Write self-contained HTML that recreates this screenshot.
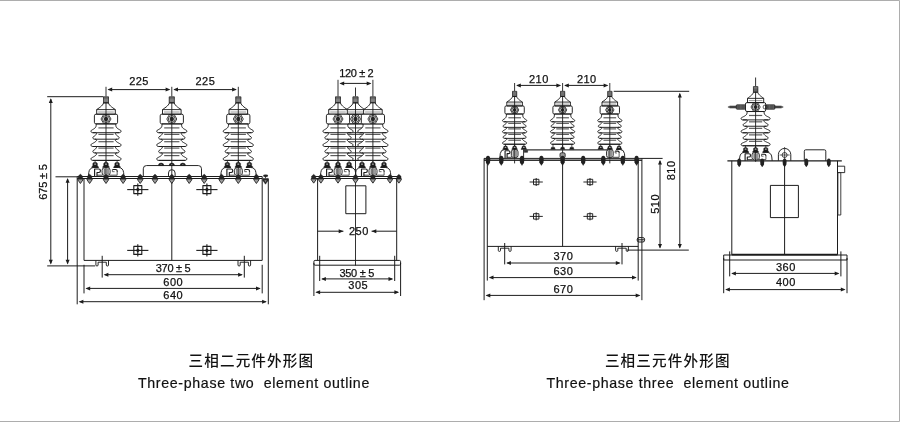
<!DOCTYPE html>
<html lang="zh">
<head>
<meta charset="utf-8">
<title>三相二元件外形图 / 三相三元件外形图</title>
<style>
html,body{margin:0;padding:0;background:#fff;}
body{width:900px;height:422px;overflow:hidden;}
svg{display:block;will-change:transform;}
.t{font-family:"Liberation Sans",sans-serif;fill:#111;stroke:#111;stroke-width:0.25px;}
.e{font-family:"Liberation Sans",sans-serif;fill:#111;stroke:#111;stroke-width:0.2px;}
.c{font-family:"Liberation Sans","Noto Sans CJK SC",sans-serif;fill:#111;font-weight:500;}
</style>
</head>
<body>
<svg width="900" height="422" viewBox="0 0 900 422" stroke-linecap="butt" stroke-linejoin="round">
<rect x="0" y="0" width="900" height="422" fill="#ffffff"/>
<path d="M0 0.5 H899.5 V421.5 H0" fill="none" stroke="#adadad" stroke-width="1"/>
<line x1="106" y1="86.8" x2="106" y2="96.7" stroke="#1c1c1c" stroke-width="0.9"/>
<line x1="171.8" y1="86.8" x2="171.8" y2="96.7" stroke="#1c1c1c" stroke-width="0.9"/>
<line x1="238.3" y1="86.8" x2="238.3" y2="96.7" stroke="#1c1c1c" stroke-width="0.9"/>
<line x1="108.5" y1="89.6" x2="169.3" y2="89.6" stroke="#1c1c1c" stroke-width="1"/>
<polygon points="107.5,89.6 112.2,87.6 112.2,91.6" fill="#1c1c1c"/>
<polygon points="170.3,89.6 165.6,87.6 165.6,91.6" fill="#1c1c1c"/>
<line x1="174.3" y1="89.6" x2="235.8" y2="89.6" stroke="#1c1c1c" stroke-width="1"/>
<polygon points="173.3,89.6 178,87.6 178,91.6" fill="#1c1c1c"/>
<polygon points="236.8,89.6 232.1,87.6 232.1,91.6" fill="#1c1c1c"/>
<text class="t" x="139.1" y="85" font-size="11" text-anchor="middle" letter-spacing="0.45">225</text>
<text class="t" x="205.4" y="85" font-size="11" text-anchor="middle" letter-spacing="0.45">225</text>
<rect x="103.5" y="96.7" width="5" height="6.2" rx="0" stroke="#333" stroke-width="0.7" fill="#d8d8d8"/>
<line x1="103" y1="97.4" x2="109" y2="97.4" stroke="#222" stroke-width="0.7"/>
<line x1="103" y1="98.65" x2="109" y2="98.65" stroke="#222" stroke-width="0.7"/>
<line x1="103" y1="99.9" x2="109" y2="99.9" stroke="#222" stroke-width="0.7"/>
<line x1="103" y1="101.15" x2="109" y2="101.15" stroke="#222" stroke-width="0.7"/>
<line x1="103" y1="102.4" x2="109" y2="102.4" stroke="#222" stroke-width="0.7"/>
<polygon points="108.4,102.9 108.89,104.02 109.63,105.07 110.57,106.06 111.66,107 112.85,107.88 114.08,108.71 115.3,109.5 115.3,114.2 96.7,114.2 96.7,109.5 97.92,108.71 99.15,107.88 100.34,107 101.43,106.06 102.37,105.07 103.11,104.02 103.6,102.9" fill="none" stroke="#1c1c1c" stroke-width="0.95"/>
<line x1="96.7" y1="109.6" x2="115.3" y2="109.6" stroke="#1c1c1c" stroke-width="0.9"/>
<line x1="98.2" y1="112" x2="113.8" y2="112" stroke="#8c8c8c" stroke-width="0.9"/>
<polygon points="115.8,123.9 115.8,125.3 115.97,126.35 116.36,127.23 116.94,127.96 117.69,128.59 118.57,129.17 119.55,129.72 120.6,130.3 120.98,130.82 121.04,131.45 120.77,132.06 120.16,132.52 119.2,132.7 116.1,132.7 115.3,133.3 115.55,133.8 115.8,134.27 116.1,134.74 116.5,135.21 117.04,135.7 117.76,136.23 118.7,136.8 119.08,137.32 119.14,137.95 118.87,138.56 118.26,139.02 117.3,139.2 116.1,139.2 115.3,140.1 115.65,140.78 116.18,141.39 116.85,141.95 117.65,142.47 118.56,142.99 119.55,143.53 120.6,144.1 120.98,144.62 121.04,145.25 120.77,145.86 120.16,146.32 119.2,146.5 116.1,146.5 115.3,147 115.55,147.5 115.8,147.97 116.1,148.44 116.5,148.91 117.04,149.4 117.76,149.93 118.7,150.5 119.08,151.02 119.14,151.65 118.87,152.26 118.26,152.72 117.3,152.9 116.1,152.9 115.3,153.8 115.65,154.56 116.18,155.22 116.85,155.81 117.65,156.36 118.56,156.89 119.55,157.43 120.6,158 120.98,158.52 121.04,159.15 120.77,159.76 120.16,160.22 119.2,160.4 116.1,160.4 95.9,160.4 92.8,160.4 91.84,160.22 91.23,159.76 90.96,159.15 91.02,158.52 91.4,158 92.45,157.43 93.44,156.89 94.35,156.36 95.15,155.81 95.82,155.22 96.35,154.56 96.7,153.8 95.9,152.9 94.7,152.9 93.74,152.72 93.13,152.26 92.86,151.65 92.92,151.02 93.3,150.5 94.24,149.93 94.96,149.4 95.5,148.91 95.9,148.44 96.2,147.97 96.45,147.5 96.7,147 95.9,146.5 92.8,146.5 91.84,146.32 91.23,145.86 90.96,145.25 91.02,144.62 91.4,144.1 92.45,143.53 93.44,142.99 94.35,142.47 95.15,141.95 95.82,141.39 96.35,140.78 96.7,140.1 95.9,139.2 94.7,139.2 93.74,139.02 93.13,138.56 92.86,137.95 92.92,137.32 93.3,136.8 94.24,136.23 94.96,135.7 95.5,135.21 95.9,134.74 96.2,134.27 96.45,133.8 96.7,133.3 95.9,132.7 92.8,132.7 91.84,132.52 91.23,132.06 90.96,131.45 91.02,130.82 91.4,130.3 92.45,129.72 93.43,129.17 94.31,128.59 95.06,127.96 95.64,127.23 96.03,126.35 96.2,125.3 96.2,123.9" fill="none" stroke="#1c1c1c" stroke-width="0.95"/>
<line x1="92.8" y1="132.7" x2="119.2" y2="132.7" stroke="#1c1c1c" stroke-width="0.95"/>
<line x1="98.4" y1="127.9" x2="113.6" y2="127.9" stroke="#5c5c5c" stroke-width="1.2"/>
<line x1="94.7" y1="139.2" x2="117.3" y2="139.2" stroke="#1c1c1c" stroke-width="0.95"/>
<line x1="98.4" y1="134.4" x2="113.6" y2="134.4" stroke="#5c5c5c" stroke-width="1.2"/>
<line x1="92.8" y1="146.5" x2="119.2" y2="146.5" stroke="#1c1c1c" stroke-width="0.95"/>
<line x1="98.4" y1="141.7" x2="113.6" y2="141.7" stroke="#5c5c5c" stroke-width="1.2"/>
<line x1="94.7" y1="152.9" x2="117.3" y2="152.9" stroke="#1c1c1c" stroke-width="0.95"/>
<line x1="98.4" y1="148.1" x2="113.6" y2="148.1" stroke="#5c5c5c" stroke-width="1.2"/>
<line x1="92.8" y1="160.4" x2="119.2" y2="160.4" stroke="#1c1c1c" stroke-width="0.95"/>
<line x1="98.4" y1="155.6" x2="113.6" y2="155.6" stroke="#5c5c5c" stroke-width="1.2"/>
<rect x="94.4" y="114.2" width="23.2" height="9.7" rx="1.6" stroke="#1c1c1c" stroke-width="0.95" fill="none"/>
<polygon points="101,119 103.5,114.7 108.5,114.7 111,119 108.5,123.3 103.5,123.3" fill="none" stroke="#1c1c1c" stroke-width="0.85"/>
<circle cx="106" cy="119" r="3.4" stroke="#1c1c1c" stroke-width="0.85" fill="none"/>
<circle cx="106" cy="119" r="2.2" stroke="#1c1c1c" stroke-width="0" fill="#2a2a2a"/>
<line x1="106" y1="102.5" x2="106" y2="182.5" stroke="#1c1c1c" stroke-width="0.9"/>
<line x1="95.1" y1="160.4" x2="95.1" y2="163.49" stroke="#1c1c1c" stroke-width="0.8"/>
<polygon points="91.8,167.48 91.8,166.68 92.8,165.78 92.8,163.49 93.6,162.49 96.6,162.49 97.4,163.49 97.4,165.78 98.4,166.68 98.4,167.48" fill="#1c1c1c" stroke="#1c1c1c" stroke-width="0.4"/>
<rect x="94.1" y="163.39" width="2" height="1.3" rx="0.5" stroke="#1c1c1c" stroke-width="0" fill="#a8a8a8"/>
<line x1="106" y1="160.4" x2="106" y2="163.49" stroke="#1c1c1c" stroke-width="0.8"/>
<polygon points="102.7,167.48 102.7,166.68 103.7,165.78 103.7,163.49 104.5,162.49 107.5,162.49 108.3,163.49 108.3,165.78 109.3,166.68 109.3,167.48" fill="#1c1c1c" stroke="#1c1c1c" stroke-width="0.4"/>
<rect x="105" y="163.39" width="2" height="1.3" rx="0.5" stroke="#1c1c1c" stroke-width="0" fill="#a8a8a8"/>
<line x1="117.1" y1="160.4" x2="117.1" y2="163.49" stroke="#1c1c1c" stroke-width="0.8"/>
<polygon points="113.8,167.48 113.8,166.68 114.8,165.78 114.8,163.49 115.6,162.49 118.6,162.49 119.4,163.49 119.4,165.78 120.4,166.68 120.4,167.48" fill="#1c1c1c" stroke="#1c1c1c" stroke-width="0.4"/>
<rect x="116.1" y="163.39" width="2" height="1.3" rx="0.5" stroke="#1c1c1c" stroke-width="0" fill="#a8a8a8"/>
<path d="M88.4 176.5 L88.8 172.48 Q89.4 167.68 94 167.48 L98.6 167.48" stroke="#1c1c1c" stroke-width="0.95" fill="none"/>
<path d="M94.6 176.5 L94.6 168.98 L98.8 168.98 Q100.4 168.98 100.4 170.38 L100.4 171.08 Q100.4 172.48 99 172.48 L97 172.48 L97 176" stroke="#1c1c1c" stroke-width="1.15" fill="none"/>
<line x1="97" y1="175.2" x2="102.6" y2="175.2" stroke="#333" stroke-width="0.9"/>
<path d="M124 176.5 L123.6 172.48 Q123 167.68 118.4 167.48 L113.6 167.48" stroke="#1c1c1c" stroke-width="0.95" fill="none"/>
<path d="M112.4 169.48 L115.6 169.48 Q117.2 169.48 117.2 171.08 L117.2 171.88" stroke="#1c1c1c" stroke-width="1.15" fill="none"/>
<line x1="117.2" y1="171.88" x2="117.2" y2="175.2" stroke="#777" stroke-width="1.2"/>
<path d="M112.4 169.48 L112.4 171.68 L114.6 171.68" stroke="#444" stroke-width="0.8" fill="none"/>
<line x1="109.4" y1="175.2" x2="117.2" y2="175.2" stroke="#333" stroke-width="0.9"/>
<rect x="102.1" y="167.68" width="8" height="7.82" rx="2.6" stroke="#1c1c1c" stroke-width="0.9" fill="none"/>
<rect x="104" y="168.88" width="1.5" height="5.42" rx="0" stroke="#555" stroke-width="0.5" fill="#8c8c8c"/>
<rect x="107" y="168.88" width="1.6" height="5.42" rx="0" stroke="#555" stroke-width="0.5" fill="#b0b0b0"/>
<rect x="169.3" y="96.7" width="5" height="6.2" rx="0" stroke="#333" stroke-width="0.7" fill="#d8d8d8"/>
<line x1="168.8" y1="97.4" x2="174.8" y2="97.4" stroke="#222" stroke-width="0.7"/>
<line x1="168.8" y1="98.65" x2="174.8" y2="98.65" stroke="#222" stroke-width="0.7"/>
<line x1="168.8" y1="99.9" x2="174.8" y2="99.9" stroke="#222" stroke-width="0.7"/>
<line x1="168.8" y1="101.15" x2="174.8" y2="101.15" stroke="#222" stroke-width="0.7"/>
<line x1="168.8" y1="102.4" x2="174.8" y2="102.4" stroke="#222" stroke-width="0.7"/>
<polygon points="174.2,102.9 174.69,104.02 175.43,105.07 176.37,106.06 177.46,107 178.65,107.88 179.88,108.71 181.1,109.5 181.1,114.2 162.5,114.2 162.5,109.5 163.72,108.71 164.95,107.88 166.14,107 167.23,106.06 168.17,105.07 168.91,104.02 169.4,102.9" fill="none" stroke="#1c1c1c" stroke-width="0.95"/>
<line x1="162.5" y1="109.6" x2="181.1" y2="109.6" stroke="#1c1c1c" stroke-width="0.9"/>
<line x1="164" y1="112" x2="179.6" y2="112" stroke="#8c8c8c" stroke-width="0.9"/>
<polygon points="181.6,123.9 181.6,125.3 181.77,126.35 182.16,127.23 182.74,127.96 183.49,128.59 184.37,129.17 185.35,129.72 186.4,130.3 186.78,130.82 186.84,131.45 186.57,132.06 185.96,132.52 185,132.7 181.9,132.7 181.1,133.3 181.35,133.8 181.6,134.27 181.9,134.74 182.3,135.21 182.84,135.7 183.56,136.23 184.5,136.8 184.88,137.32 184.94,137.95 184.67,138.56 184.06,139.02 183.1,139.2 181.9,139.2 181.1,140.1 181.45,140.78 181.98,141.39 182.65,141.95 183.45,142.47 184.36,142.99 185.35,143.53 186.4,144.1 186.78,144.62 186.84,145.25 186.57,145.86 185.96,146.32 185,146.5 181.9,146.5 181.1,147 181.35,147.5 181.6,147.97 181.9,148.44 182.3,148.91 182.84,149.4 183.56,149.93 184.5,150.5 184.88,151.02 184.94,151.65 184.67,152.26 184.06,152.72 183.1,152.9 181.9,152.9 181.1,153.8 181.45,154.56 181.98,155.22 182.65,155.81 183.45,156.36 184.36,156.89 185.35,157.43 186.4,158 186.78,158.52 186.84,159.15 186.57,159.76 185.96,160.22 185,160.4 181.9,160.4 161.7,160.4 158.6,160.4 157.64,160.22 157.03,159.76 156.76,159.15 156.82,158.52 157.2,158 158.25,157.43 159.24,156.89 160.15,156.36 160.95,155.81 161.62,155.22 162.15,154.56 162.5,153.8 161.7,152.9 160.5,152.9 159.54,152.72 158.93,152.26 158.66,151.65 158.72,151.02 159.1,150.5 160.04,149.93 160.76,149.4 161.3,148.91 161.7,148.44 162,147.97 162.25,147.5 162.5,147 161.7,146.5 158.6,146.5 157.64,146.32 157.03,145.86 156.76,145.25 156.82,144.62 157.2,144.1 158.25,143.53 159.24,142.99 160.15,142.47 160.95,141.95 161.62,141.39 162.15,140.78 162.5,140.1 161.7,139.2 160.5,139.2 159.54,139.02 158.93,138.56 158.66,137.95 158.72,137.32 159.1,136.8 160.04,136.23 160.76,135.7 161.3,135.21 161.7,134.74 162,134.27 162.25,133.8 162.5,133.3 161.7,132.7 158.6,132.7 157.64,132.52 157.03,132.06 156.76,131.45 156.82,130.82 157.2,130.3 158.25,129.72 159.23,129.17 160.11,128.59 160.86,127.96 161.44,127.23 161.83,126.35 162,125.3 162,123.9" fill="none" stroke="#1c1c1c" stroke-width="0.95"/>
<line x1="158.6" y1="132.7" x2="185" y2="132.7" stroke="#1c1c1c" stroke-width="0.95"/>
<line x1="164.2" y1="127.9" x2="179.4" y2="127.9" stroke="#5c5c5c" stroke-width="1.2"/>
<line x1="160.5" y1="139.2" x2="183.1" y2="139.2" stroke="#1c1c1c" stroke-width="0.95"/>
<line x1="164.2" y1="134.4" x2="179.4" y2="134.4" stroke="#5c5c5c" stroke-width="1.2"/>
<line x1="158.6" y1="146.5" x2="185" y2="146.5" stroke="#1c1c1c" stroke-width="0.95"/>
<line x1="164.2" y1="141.7" x2="179.4" y2="141.7" stroke="#5c5c5c" stroke-width="1.2"/>
<line x1="160.5" y1="152.9" x2="183.1" y2="152.9" stroke="#1c1c1c" stroke-width="0.95"/>
<line x1="164.2" y1="148.1" x2="179.4" y2="148.1" stroke="#5c5c5c" stroke-width="1.2"/>
<line x1="158.6" y1="160.4" x2="185" y2="160.4" stroke="#1c1c1c" stroke-width="0.95"/>
<line x1="164.2" y1="155.6" x2="179.4" y2="155.6" stroke="#5c5c5c" stroke-width="1.2"/>
<rect x="160.2" y="114.2" width="23.2" height="9.7" rx="1.6" stroke="#1c1c1c" stroke-width="0.95" fill="none"/>
<polygon points="166.8,119 169.3,114.7 174.3,114.7 176.8,119 174.3,123.3 169.3,123.3" fill="none" stroke="#1c1c1c" stroke-width="0.85"/>
<circle cx="171.8" cy="119" r="3.4" stroke="#1c1c1c" stroke-width="0.85" fill="none"/>
<circle cx="171.8" cy="119" r="2.2" stroke="#1c1c1c" stroke-width="0" fill="#2a2a2a"/>
<line x1="171.8" y1="102.5" x2="171.8" y2="182.5" stroke="#1c1c1c" stroke-width="0.9"/>
<path d="M158.4 165.55 A2.7 2.5 0 0 1 163.8 165.55 Z" stroke="#1c1c1c" stroke-width="0.5" fill="#1c1c1c"/>
<rect x="160.3" y="164.05" width="1.6" height="0.8" rx="0.4" stroke="#1c1c1c" stroke-width="0" fill="#8a8a8a"/>
<path d="M169.1 165.55 A2.7 2.5 0 0 1 174.5 165.55 Z" stroke="#1c1c1c" stroke-width="0.5" fill="#1c1c1c"/>
<rect x="171" y="164.05" width="1.6" height="0.8" rx="0.4" stroke="#1c1c1c" stroke-width="0" fill="#8a8a8a"/>
<path d="M180.1 165.55 A2.7 2.5 0 0 1 185.5 165.55 Z" stroke="#1c1c1c" stroke-width="0.5" fill="#1c1c1c"/>
<rect x="182" y="164.05" width="1.6" height="0.8" rx="0.4" stroke="#1c1c1c" stroke-width="0" fill="#8a8a8a"/>
<path d="M143.3 176.5 L143.3 168.75 Q143.3 165.55 146.5 165.55 L198.3 165.55 Q201.5 165.55 201.5 168.75 L201.5 176.5" stroke="#1c1c1c" stroke-width="0.95" fill="none"/>
<path d="M168.5 176.5 L168.5 173 A3.3 3.3 0 0 1 175.1 173 L175.1 176.5" stroke="#1c1c1c" stroke-width="0.95" fill="none"/>
<rect x="235.8" y="96.7" width="5" height="6.2" rx="0" stroke="#333" stroke-width="0.7" fill="#d8d8d8"/>
<line x1="235.3" y1="97.4" x2="241.3" y2="97.4" stroke="#222" stroke-width="0.7"/>
<line x1="235.3" y1="98.65" x2="241.3" y2="98.65" stroke="#222" stroke-width="0.7"/>
<line x1="235.3" y1="99.9" x2="241.3" y2="99.9" stroke="#222" stroke-width="0.7"/>
<line x1="235.3" y1="101.15" x2="241.3" y2="101.15" stroke="#222" stroke-width="0.7"/>
<line x1="235.3" y1="102.4" x2="241.3" y2="102.4" stroke="#222" stroke-width="0.7"/>
<polygon points="240.7,102.9 241.19,104.02 241.93,105.07 242.87,106.06 243.96,107 245.15,107.88 246.38,108.71 247.6,109.5 247.6,114.2 229,114.2 229,109.5 230.22,108.71 231.45,107.88 232.64,107 233.73,106.06 234.67,105.07 235.41,104.02 235.9,102.9" fill="none" stroke="#1c1c1c" stroke-width="0.95"/>
<line x1="229" y1="109.6" x2="247.6" y2="109.6" stroke="#1c1c1c" stroke-width="0.9"/>
<line x1="230.5" y1="112" x2="246.1" y2="112" stroke="#8c8c8c" stroke-width="0.9"/>
<polygon points="248.1,123.9 248.1,125.3 248.27,126.35 248.66,127.23 249.24,127.96 249.99,128.59 250.87,129.17 251.85,129.72 252.9,130.3 253.28,130.82 253.34,131.45 253.07,132.06 252.46,132.52 251.5,132.7 248.4,132.7 247.6,133.3 247.85,133.8 248.1,134.27 248.4,134.74 248.8,135.21 249.34,135.7 250.06,136.23 251,136.8 251.38,137.32 251.44,137.95 251.17,138.56 250.56,139.02 249.6,139.2 248.4,139.2 247.6,140.1 247.95,140.78 248.48,141.39 249.15,141.95 249.95,142.47 250.86,142.99 251.85,143.53 252.9,144.1 253.28,144.62 253.34,145.25 253.07,145.86 252.46,146.32 251.5,146.5 248.4,146.5 247.6,147 247.85,147.5 248.1,147.97 248.4,148.44 248.8,148.91 249.34,149.4 250.06,149.93 251,150.5 251.38,151.02 251.44,151.65 251.17,152.26 250.56,152.72 249.6,152.9 248.4,152.9 247.6,153.8 247.95,154.56 248.48,155.22 249.15,155.81 249.95,156.36 250.86,156.89 251.85,157.43 252.9,158 253.28,158.52 253.34,159.15 253.07,159.76 252.46,160.22 251.5,160.4 248.4,160.4 228.2,160.4 225.1,160.4 224.14,160.22 223.53,159.76 223.26,159.15 223.32,158.52 223.7,158 224.75,157.43 225.74,156.89 226.65,156.36 227.45,155.81 228.12,155.22 228.65,154.56 229,153.8 228.2,152.9 227,152.9 226.04,152.72 225.43,152.26 225.16,151.65 225.22,151.02 225.6,150.5 226.54,149.93 227.26,149.4 227.8,148.91 228.2,148.44 228.5,147.97 228.75,147.5 229,147 228.2,146.5 225.1,146.5 224.14,146.32 223.53,145.86 223.26,145.25 223.32,144.62 223.7,144.1 224.75,143.53 225.74,142.99 226.65,142.47 227.45,141.95 228.12,141.39 228.65,140.78 229,140.1 228.2,139.2 227,139.2 226.04,139.02 225.43,138.56 225.16,137.95 225.22,137.32 225.6,136.8 226.54,136.23 227.26,135.7 227.8,135.21 228.2,134.74 228.5,134.27 228.75,133.8 229,133.3 228.2,132.7 225.1,132.7 224.14,132.52 223.53,132.06 223.26,131.45 223.32,130.82 223.7,130.3 224.75,129.72 225.73,129.17 226.61,128.59 227.36,127.96 227.94,127.23 228.33,126.35 228.5,125.3 228.5,123.9" fill="none" stroke="#1c1c1c" stroke-width="0.95"/>
<line x1="225.1" y1="132.7" x2="251.5" y2="132.7" stroke="#1c1c1c" stroke-width="0.95"/>
<line x1="230.7" y1="127.9" x2="245.9" y2="127.9" stroke="#5c5c5c" stroke-width="1.2"/>
<line x1="227" y1="139.2" x2="249.6" y2="139.2" stroke="#1c1c1c" stroke-width="0.95"/>
<line x1="230.7" y1="134.4" x2="245.9" y2="134.4" stroke="#5c5c5c" stroke-width="1.2"/>
<line x1="225.1" y1="146.5" x2="251.5" y2="146.5" stroke="#1c1c1c" stroke-width="0.95"/>
<line x1="230.7" y1="141.7" x2="245.9" y2="141.7" stroke="#5c5c5c" stroke-width="1.2"/>
<line x1="227" y1="152.9" x2="249.6" y2="152.9" stroke="#1c1c1c" stroke-width="0.95"/>
<line x1="230.7" y1="148.1" x2="245.9" y2="148.1" stroke="#5c5c5c" stroke-width="1.2"/>
<line x1="225.1" y1="160.4" x2="251.5" y2="160.4" stroke="#1c1c1c" stroke-width="0.95"/>
<line x1="230.7" y1="155.6" x2="245.9" y2="155.6" stroke="#5c5c5c" stroke-width="1.2"/>
<rect x="226.7" y="114.2" width="23.2" height="9.7" rx="1.6" stroke="#1c1c1c" stroke-width="0.95" fill="none"/>
<polygon points="233.3,119 235.8,114.7 240.8,114.7 243.3,119 240.8,123.3 235.8,123.3" fill="none" stroke="#1c1c1c" stroke-width="0.85"/>
<circle cx="238.3" cy="119" r="3.4" stroke="#1c1c1c" stroke-width="0.85" fill="none"/>
<circle cx="238.3" cy="119" r="2.2" stroke="#1c1c1c" stroke-width="0" fill="#2a2a2a"/>
<line x1="238.3" y1="102.5" x2="238.3" y2="182.5" stroke="#1c1c1c" stroke-width="0.9"/>
<line x1="227.4" y1="160.4" x2="227.4" y2="163.49" stroke="#1c1c1c" stroke-width="0.8"/>
<polygon points="224.1,167.48 224.1,166.68 225.1,165.78 225.1,163.49 225.9,162.49 228.9,162.49 229.7,163.49 229.7,165.78 230.7,166.68 230.7,167.48" fill="#1c1c1c" stroke="#1c1c1c" stroke-width="0.4"/>
<rect x="226.4" y="163.39" width="2" height="1.3" rx="0.5" stroke="#1c1c1c" stroke-width="0" fill="#a8a8a8"/>
<line x1="238.3" y1="160.4" x2="238.3" y2="163.49" stroke="#1c1c1c" stroke-width="0.8"/>
<polygon points="235,167.48 235,166.68 236,165.78 236,163.49 236.8,162.49 239.8,162.49 240.6,163.49 240.6,165.78 241.6,166.68 241.6,167.48" fill="#1c1c1c" stroke="#1c1c1c" stroke-width="0.4"/>
<rect x="237.3" y="163.39" width="2" height="1.3" rx="0.5" stroke="#1c1c1c" stroke-width="0" fill="#a8a8a8"/>
<line x1="249.4" y1="160.4" x2="249.4" y2="163.49" stroke="#1c1c1c" stroke-width="0.8"/>
<polygon points="246.1,167.48 246.1,166.68 247.1,165.78 247.1,163.49 247.9,162.49 250.9,162.49 251.7,163.49 251.7,165.78 252.7,166.68 252.7,167.48" fill="#1c1c1c" stroke="#1c1c1c" stroke-width="0.4"/>
<rect x="248.4" y="163.39" width="2" height="1.3" rx="0.5" stroke="#1c1c1c" stroke-width="0" fill="#a8a8a8"/>
<path d="M220.7 176.5 L221.1 172.48 Q221.7 167.68 226.3 167.48 L230.9 167.48" stroke="#1c1c1c" stroke-width="0.95" fill="none"/>
<path d="M226.9 176.5 L226.9 168.98 L231.1 168.98 Q232.7 168.98 232.7 170.38 L232.7 171.08 Q232.7 172.48 231.3 172.48 L229.3 172.48 L229.3 176" stroke="#1c1c1c" stroke-width="1.15" fill="none"/>
<line x1="229.3" y1="175.2" x2="234.9" y2="175.2" stroke="#333" stroke-width="0.9"/>
<path d="M256.3 176.5 L255.9 172.48 Q255.3 167.68 250.7 167.48 L245.9 167.48" stroke="#1c1c1c" stroke-width="0.95" fill="none"/>
<path d="M244.7 169.48 L247.9 169.48 Q249.5 169.48 249.5 171.08 L249.5 171.88" stroke="#1c1c1c" stroke-width="1.15" fill="none"/>
<line x1="249.5" y1="171.88" x2="249.5" y2="175.2" stroke="#777" stroke-width="1.2"/>
<path d="M244.7 169.48 L244.7 171.68 L246.9 171.68" stroke="#444" stroke-width="0.8" fill="none"/>
<line x1="241.7" y1="175.2" x2="249.5" y2="175.2" stroke="#333" stroke-width="0.9"/>
<rect x="234.4" y="167.68" width="8" height="7.82" rx="2.6" stroke="#1c1c1c" stroke-width="0.9" fill="none"/>
<rect x="236.3" y="168.88" width="1.5" height="5.42" rx="0" stroke="#555" stroke-width="0.5" fill="#8c8c8c"/>
<rect x="239.3" y="168.88" width="1.6" height="5.42" rx="0" stroke="#555" stroke-width="0.5" fill="#b0b0b0"/>
<line x1="55.5" y1="176.8" x2="77.2" y2="176.8" stroke="#1c1c1c" stroke-width="1"/>
<line x1="77.2" y1="176.5" x2="262.2" y2="176.5" stroke="#1c1c1c" stroke-width="1"/>
<line x1="77.2" y1="178.5" x2="262.2" y2="178.5" stroke="#1c1c1c" stroke-width="1"/>
<path d="M77.8 178.9 L83 178.9 L83 179.8 L80.4 183.5 L77.8 179.8 Z" stroke="#1c1c1c" stroke-width="0.85" fill="#9c9c9c"/>
<path d="M80.4 174.1 L82.7 176.3 L82.7 179 L78.1 179 L78.1 176.3 Z" stroke="#1c1c1c" stroke-width="0.3" fill="#242424"/>
<path d="M87 178.9 L92.2 178.9 L92.2 179.8 L89.6 183.5 L87 179.8 Z" stroke="#1c1c1c" stroke-width="0.85" fill="#9c9c9c"/>
<path d="M89.6 174.1 L91.9 176.3 L91.9 179 L87.3 179 L87.3 176.3 Z" stroke="#1c1c1c" stroke-width="0.3" fill="#242424"/>
<path d="M103.4 178.9 L108.6 178.9 L108.6 179.8 L106 183.5 L103.4 179.8 Z" stroke="#1c1c1c" stroke-width="0.85" fill="#9c9c9c"/>
<path d="M106 174.1 L108.3 176.3 L108.3 179 L103.7 179 L103.7 176.3 Z" stroke="#1c1c1c" stroke-width="0.3" fill="#242424"/>
<path d="M120.5 178.9 L125.7 178.9 L125.7 179.8 L123.1 183.5 L120.5 179.8 Z" stroke="#1c1c1c" stroke-width="0.85" fill="#9c9c9c"/>
<path d="M123.1 174.1 L125.4 176.3 L125.4 179 L120.8 179 L120.8 176.3 Z" stroke="#1c1c1c" stroke-width="0.3" fill="#242424"/>
<path d="M137.6 178.9 L142.8 178.9 L142.8 179.8 L140.2 183.5 L137.6 179.8 Z" stroke="#1c1c1c" stroke-width="0.85" fill="#9c9c9c"/>
<path d="M140.2 174.1 L142.5 176.3 L142.5 179 L137.9 179 L137.9 176.3 Z" stroke="#1c1c1c" stroke-width="0.3" fill="#242424"/>
<path d="M152.4 178.9 L157.6 178.9 L157.6 179.8 L155 183.5 L152.4 179.8 Z" stroke="#1c1c1c" stroke-width="0.85" fill="#9c9c9c"/>
<path d="M155 174.1 L157.3 176.3 L157.3 179 L152.7 179 L152.7 176.3 Z" stroke="#1c1c1c" stroke-width="0.3" fill="#242424"/>
<path d="M169.2 178.9 L174.4 178.9 L174.4 179.8 L171.8 183.5 L169.2 179.8 Z" stroke="#1c1c1c" stroke-width="0.85" fill="#9c9c9c"/>
<path d="M171.8 174.1 L174.1 176.3 L174.1 179 L169.5 179 L169.5 176.3 Z" stroke="#1c1c1c" stroke-width="0.3" fill="#242424"/>
<path d="M186.6 178.9 L191.8 178.9 L191.8 179.8 L189.2 183.5 L186.6 179.8 Z" stroke="#1c1c1c" stroke-width="0.85" fill="#9c9c9c"/>
<path d="M189.2 174.1 L191.5 176.3 L191.5 179 L186.9 179 L186.9 176.3 Z" stroke="#1c1c1c" stroke-width="0.3" fill="#242424"/>
<path d="M201.6 178.9 L206.8 178.9 L206.8 179.8 L204.2 183.5 L201.6 179.8 Z" stroke="#1c1c1c" stroke-width="0.85" fill="#9c9c9c"/>
<path d="M204.2 174.1 L206.5 176.3 L206.5 179 L201.9 179 L201.9 176.3 Z" stroke="#1c1c1c" stroke-width="0.3" fill="#242424"/>
<path d="M219 178.9 L224.2 178.9 L224.2 179.8 L221.6 183.5 L219 179.8 Z" stroke="#1c1c1c" stroke-width="0.85" fill="#9c9c9c"/>
<path d="M221.6 174.1 L223.9 176.3 L223.9 179 L219.3 179 L219.3 176.3 Z" stroke="#1c1c1c" stroke-width="0.3" fill="#242424"/>
<path d="M235.7 178.9 L240.9 178.9 L240.9 179.8 L238.3 183.5 L235.7 179.8 Z" stroke="#1c1c1c" stroke-width="0.85" fill="#9c9c9c"/>
<path d="M238.3 174.1 L240.6 176.3 L240.6 179 L236 179 L236 176.3 Z" stroke="#1c1c1c" stroke-width="0.3" fill="#242424"/>
<path d="M253.8 178.9 L259 178.9 L259 179.8 L256.4 183.5 L253.8 179.8 Z" stroke="#1c1c1c" stroke-width="0.85" fill="#9c9c9c"/>
<path d="M256.4 174.1 L258.7 176.3 L258.7 179 L254.1 179 L254.1 176.3 Z" stroke="#1c1c1c" stroke-width="0.3" fill="#242424"/>
<ellipse cx="265.6" cy="175.8" rx="2.5" ry="1.2" fill="#222"/>
<path d="M262.9 178.4 L268 178.4 L268 180.6 L265.5 184.2 L262.9 180.6 Z" stroke="#1c1c1c" stroke-width="0.5" fill="#2b2b2b"/>
<path d="M264.4 180.2 L266.6 180.2 L265.5 182.2 Z" stroke="#1c1c1c" stroke-width="0" fill="#8a8a8a"/>
<line x1="265.5" y1="176.5" x2="265.5" y2="178.4" stroke="#1c1c1c" stroke-width="0.8"/>
<line x1="77.2" y1="176.5" x2="77.2" y2="304.3" stroke="#1c1c1c" stroke-width="1"/>
<line x1="84" y1="178.5" x2="84" y2="260.4" stroke="#1c1c1c" stroke-width="1"/>
<line x1="262.2" y1="176.5" x2="262.2" y2="260.4" stroke="#1c1c1c" stroke-width="1"/>
<line x1="268.3" y1="178.5" x2="268.3" y2="304.3" stroke="#1c1c1c" stroke-width="1"/>
<line x1="84" y1="260.4" x2="262.2" y2="260.4" stroke="#1c1c1c" stroke-width="1"/>
<line x1="171.8" y1="182.5" x2="171.8" y2="260.4" stroke="#1c1c1c" stroke-width="1"/>
<line x1="84" y1="264.8" x2="84" y2="293.4" stroke="#1c1c1c" stroke-width="1"/>
<line x1="262.2" y1="264.8" x2="262.2" y2="293.4" stroke="#1c1c1c" stroke-width="1"/>
<rect x="133.8" y="185.6" width="8" height="8" rx="0" stroke="#1c1c1c" stroke-width="1.1" fill="none"/>
<line x1="127.2" y1="189.6" x2="148.4" y2="189.6" stroke="#1c1c1c" stroke-width="1.1"/>
<line x1="137.8" y1="183.5" x2="137.8" y2="195.7" stroke="#1c1c1c" stroke-width="1.1"/>
<path d="M135.7 189.6 L137.8 187.5 L139.9 189.6 L137.8 191.7 Z" stroke="#1c1c1c" stroke-width="0" fill="#1c1c1c"/>
<rect x="133.8" y="246.4" width="8" height="8" rx="0" stroke="#1c1c1c" stroke-width="1.1" fill="none"/>
<line x1="127.2" y1="250.4" x2="148.4" y2="250.4" stroke="#1c1c1c" stroke-width="1.1"/>
<line x1="137.8" y1="244.3" x2="137.8" y2="256.5" stroke="#1c1c1c" stroke-width="1.1"/>
<path d="M135.7 250.4 L137.8 248.3 L139.9 250.4 L137.8 252.5 Z" stroke="#1c1c1c" stroke-width="0" fill="#1c1c1c"/>
<rect x="202.9" y="185.6" width="8" height="8" rx="0" stroke="#1c1c1c" stroke-width="1.1" fill="none"/>
<line x1="196.3" y1="189.6" x2="217.5" y2="189.6" stroke="#1c1c1c" stroke-width="1.1"/>
<line x1="206.9" y1="183.5" x2="206.9" y2="195.7" stroke="#1c1c1c" stroke-width="1.1"/>
<path d="M204.8 189.6 L206.9 187.5 L209 189.6 L206.9 191.7 Z" stroke="#1c1c1c" stroke-width="0" fill="#1c1c1c"/>
<rect x="202.9" y="246.4" width="8" height="8" rx="0" stroke="#1c1c1c" stroke-width="1.1" fill="none"/>
<line x1="196.3" y1="250.4" x2="217.5" y2="250.4" stroke="#1c1c1c" stroke-width="1.1"/>
<line x1="206.9" y1="244.3" x2="206.9" y2="256.5" stroke="#1c1c1c" stroke-width="1.1"/>
<path d="M204.8 250.4 L206.9 248.3 L209 250.4 L206.9 252.5 Z" stroke="#1c1c1c" stroke-width="0" fill="#1c1c1c"/>
<path d="M95.9 260.4 L95.9 265 Q95.9 266 97 266 Q98.1 266 98.1 265 L98.1 262.2 L106.3 262.2 L106.3 265 Q106.3 266 107.4 266 Q108.5 266 108.5 265 L108.5 260.4" stroke="#1c1c1c" stroke-width="0.95" fill="none"/>
<line x1="102.2" y1="255.8" x2="102.2" y2="277.6" stroke="#1c1c1c" stroke-width="1"/>
<path d="M238 260.4 L238 265 Q238 266 239.1 266 Q240.2 266 240.2 265 L240.2 262.2 L248.4 262.2 L248.4 265 Q248.4 266 249.5 266 Q250.6 266 250.6 265 L250.6 260.4" stroke="#1c1c1c" stroke-width="0.95" fill="none"/>
<line x1="244.3" y1="255.8" x2="244.3" y2="277.6" stroke="#1c1c1c" stroke-width="1"/>
<line x1="47.2" y1="265.9" x2="95.2" y2="265.9" stroke="#1c1c1c" stroke-width="1"/>
<line x1="47.2" y1="96.7" x2="103.3" y2="96.7" stroke="#1c1c1c" stroke-width="1"/>
<line x1="50.8" y1="99.2" x2="50.8" y2="263.4" stroke="#1c1c1c" stroke-width="1"/>
<polygon points="50.8,98.2 48.8,102.9 52.8,102.9" fill="#1c1c1c"/>
<polygon points="50.8,264.4 48.8,259.7 52.8,259.7" fill="#1c1c1c"/>
<line x1="67.6" y1="179" x2="67.6" y2="263.4" stroke="#1c1c1c" stroke-width="1"/>
<polygon points="67.6,178 65.6,182.7 69.6,182.7" fill="#1c1c1c"/>
<polygon points="67.6,264.4 65.6,259.7 69.6,259.7" fill="#1c1c1c"/>
<text class="t" x="46.8" y="181.9" font-size="11" text-anchor="middle" transform="rotate(-90 46.8 181.9)" textLength="35.5" lengthAdjust="spacing">675 ± 5</text>
<line x1="104.7" y1="274.7" x2="241.8" y2="274.7" stroke="#1c1c1c" stroke-width="1"/>
<polygon points="103.7,274.7 108.4,272.7 108.4,276.7" fill="#1c1c1c"/>
<polygon points="242.8,274.7 238.1,272.7 238.1,276.7" fill="#1c1c1c"/>
<line x1="86.5" y1="288.4" x2="259.7" y2="288.4" stroke="#1c1c1c" stroke-width="1"/>
<polygon points="85.5,288.4 90.2,286.4 90.2,290.4" fill="#1c1c1c"/>
<polygon points="260.7,288.4 256,286.4 256,290.4" fill="#1c1c1c"/>
<line x1="79.7" y1="301.7" x2="265.8" y2="301.7" stroke="#1c1c1c" stroke-width="1"/>
<polygon points="78.7,301.7 83.4,299.7 83.4,303.7" fill="#1c1c1c"/>
<polygon points="266.8,301.7 262.1,299.7 262.1,303.7" fill="#1c1c1c"/>
<text class="t" x="173.2" y="272.2" font-size="11" text-anchor="middle" textLength="35" lengthAdjust="spacing">370 ± 5</text>
<text class="t" x="173.2" y="286" font-size="11" text-anchor="middle" letter-spacing="0.45">600</text>
<text class="t" x="173.2" y="298.8" font-size="11" text-anchor="middle" letter-spacing="0.45">640</text>
<line x1="338" y1="79.8" x2="338" y2="96.7" stroke="#1c1c1c" stroke-width="0.9"/>
<line x1="372.9" y1="79.8" x2="372.9" y2="96.7" stroke="#1c1c1c" stroke-width="0.9"/>
<line x1="355.5" y1="87.5" x2="355.5" y2="96.7" stroke="#1c1c1c" stroke-width="0.9"/>
<line x1="340.5" y1="83.4" x2="370.4" y2="83.4" stroke="#1c1c1c" stroke-width="1"/>
<polygon points="339.5,83.4 344.2,81.4 344.2,85.4" fill="#1c1c1c"/>
<polygon points="371.4,83.4 366.7,81.4 366.7,85.4" fill="#1c1c1c"/>
<text class="t" x="356.4" y="76.8" font-size="11" text-anchor="middle" textLength="34.5" lengthAdjust="spacing">120 ± 2</text>
<rect x="353" y="96.7" width="5" height="6.2" rx="0" stroke="#333" stroke-width="0.7" fill="#d8d8d8"/>
<line x1="352.5" y1="97.4" x2="358.5" y2="97.4" stroke="#222" stroke-width="0.7"/>
<line x1="352.5" y1="98.65" x2="358.5" y2="98.65" stroke="#222" stroke-width="0.7"/>
<line x1="352.5" y1="99.9" x2="358.5" y2="99.9" stroke="#222" stroke-width="0.7"/>
<line x1="352.5" y1="101.15" x2="358.5" y2="101.15" stroke="#222" stroke-width="0.7"/>
<line x1="352.5" y1="102.4" x2="358.5" y2="102.4" stroke="#222" stroke-width="0.7"/>
<polygon points="357.9,102.9 358.39,104.02 359.13,105.07 360.07,106.06 361.16,107 362.35,107.88 363.58,108.71 364.8,109.5 364.8,114.2 346.2,114.2 346.2,109.5 347.42,108.71 348.65,107.88 349.84,107 350.93,106.06 351.87,105.07 352.61,104.02 353.1,102.9" fill="none" stroke="#1c1c1c" stroke-width="0.95"/>
<line x1="346.2" y1="109.6" x2="364.8" y2="109.6" stroke="#1c1c1c" stroke-width="0.9"/>
<line x1="347.7" y1="112" x2="363.3" y2="112" stroke="#8c8c8c" stroke-width="0.9"/>
<polygon points="365.3,123.9 365.3,125.3 365.47,126.35 365.86,127.23 366.44,127.96 367.19,128.59 368.07,129.17 369.05,129.72 370.1,130.3 370.48,130.82 370.54,131.45 370.27,132.06 369.66,132.52 368.7,132.7 365.6,132.7 364.8,133.3 365.05,133.8 365.3,134.27 365.6,134.74 366,135.21 366.54,135.7 367.26,136.23 368.2,136.8 368.58,137.32 368.64,137.95 368.37,138.56 367.76,139.02 366.8,139.2 365.6,139.2 364.8,140.1 365.15,140.78 365.68,141.39 366.35,141.95 367.15,142.47 368.06,142.99 369.05,143.53 370.1,144.1 370.48,144.62 370.54,145.25 370.27,145.86 369.66,146.32 368.7,146.5 365.6,146.5 364.8,147 365.05,147.5 365.3,147.97 365.6,148.44 366,148.91 366.54,149.4 367.26,149.93 368.2,150.5 368.58,151.02 368.64,151.65 368.37,152.26 367.76,152.72 366.8,152.9 365.6,152.9 364.8,153.8 365.15,154.56 365.68,155.22 366.35,155.81 367.15,156.36 368.06,156.89 369.05,157.43 370.1,158 370.48,158.52 370.54,159.15 370.27,159.76 369.66,160.22 368.7,160.4 365.6,160.4 345.4,160.4 342.3,160.4 341.34,160.22 340.73,159.76 340.46,159.15 340.52,158.52 340.9,158 341.95,157.43 342.94,156.89 343.85,156.36 344.65,155.81 345.32,155.22 345.85,154.56 346.2,153.8 345.4,152.9 344.2,152.9 343.24,152.72 342.63,152.26 342.36,151.65 342.42,151.02 342.8,150.5 343.74,149.93 344.46,149.4 345,148.91 345.4,148.44 345.7,147.97 345.95,147.5 346.2,147 345.4,146.5 342.3,146.5 341.34,146.32 340.73,145.86 340.46,145.25 340.52,144.62 340.9,144.1 341.95,143.53 342.94,142.99 343.85,142.47 344.65,141.95 345.32,141.39 345.85,140.78 346.2,140.1 345.4,139.2 344.2,139.2 343.24,139.02 342.63,138.56 342.36,137.95 342.42,137.32 342.8,136.8 343.74,136.23 344.46,135.7 345,135.21 345.4,134.74 345.7,134.27 345.95,133.8 346.2,133.3 345.4,132.7 342.3,132.7 341.34,132.52 340.73,132.06 340.46,131.45 340.52,130.82 340.9,130.3 341.95,129.72 342.93,129.17 343.81,128.59 344.56,127.96 345.14,127.23 345.53,126.35 345.7,125.3 345.7,123.9" fill="none" stroke="#1c1c1c" stroke-width="0.95"/>
<line x1="342.3" y1="132.7" x2="368.7" y2="132.7" stroke="#1c1c1c" stroke-width="0.95"/>
<line x1="347.9" y1="127.9" x2="363.1" y2="127.9" stroke="#5c5c5c" stroke-width="1.2"/>
<line x1="344.2" y1="139.2" x2="366.8" y2="139.2" stroke="#1c1c1c" stroke-width="0.95"/>
<line x1="347.9" y1="134.4" x2="363.1" y2="134.4" stroke="#5c5c5c" stroke-width="1.2"/>
<line x1="342.3" y1="146.5" x2="368.7" y2="146.5" stroke="#1c1c1c" stroke-width="0.95"/>
<line x1="347.9" y1="141.7" x2="363.1" y2="141.7" stroke="#5c5c5c" stroke-width="1.2"/>
<line x1="344.2" y1="152.9" x2="366.8" y2="152.9" stroke="#1c1c1c" stroke-width="0.95"/>
<line x1="347.9" y1="148.1" x2="363.1" y2="148.1" stroke="#5c5c5c" stroke-width="1.2"/>
<line x1="342.3" y1="160.4" x2="368.7" y2="160.4" stroke="#1c1c1c" stroke-width="0.95"/>
<line x1="347.9" y1="155.6" x2="363.1" y2="155.6" stroke="#5c5c5c" stroke-width="1.2"/>
<rect x="343.9" y="114.2" width="23.2" height="9.7" rx="1.6" stroke="#1c1c1c" stroke-width="0.95" fill="none"/>
<polygon points="350.5,119 353,114.7 358,114.7 360.5,119 358,123.3 353,123.3" fill="none" stroke="#1c1c1c" stroke-width="0.85"/>
<circle cx="355.5" cy="119" r="3.4" stroke="#1c1c1c" stroke-width="0.85" fill="none"/>
<circle cx="355.5" cy="119" r="2.2" stroke="#1c1c1c" stroke-width="0" fill="#2a2a2a"/>
<line x1="355.5" y1="102.5" x2="355.5" y2="265.6" stroke="#1c1c1c" stroke-width="0.9"/>
<rect x="335.5" y="96.7" width="5" height="6.2" rx="0" stroke="#333" stroke-width="0.7" fill="#d8d8d8"/>
<line x1="335" y1="97.4" x2="341" y2="97.4" stroke="#222" stroke-width="0.7"/>
<line x1="335" y1="98.65" x2="341" y2="98.65" stroke="#222" stroke-width="0.7"/>
<line x1="335" y1="99.9" x2="341" y2="99.9" stroke="#222" stroke-width="0.7"/>
<line x1="335" y1="101.15" x2="341" y2="101.15" stroke="#222" stroke-width="0.7"/>
<line x1="335" y1="102.4" x2="341" y2="102.4" stroke="#222" stroke-width="0.7"/>
<polygon points="340.4,102.9 340.89,104.02 341.63,105.07 342.57,106.06 343.66,107 344.85,107.88 346.08,108.71 347.3,109.5 347.3,114.2 328.7,114.2 328.7,109.5 329.92,108.71 331.15,107.88 332.34,107 333.43,106.06 334.37,105.07 335.11,104.02 335.6,102.9" fill="#fff" stroke="#1c1c1c" stroke-width="0.95"/>
<line x1="328.7" y1="109.6" x2="347.3" y2="109.6" stroke="#1c1c1c" stroke-width="0.9"/>
<line x1="330.2" y1="112" x2="345.8" y2="112" stroke="#8c8c8c" stroke-width="0.9"/>
<polygon points="347.8,123.9 347.8,125.3 347.97,126.35 348.36,127.23 348.94,127.96 349.69,128.59 350.57,129.17 351.55,129.72 352.6,130.3 352.98,130.82 353.04,131.45 352.77,132.06 352.16,132.52 351.2,132.7 348.1,132.7 347.3,133.3 347.55,133.8 347.8,134.27 348.1,134.74 348.5,135.21 349.04,135.7 349.76,136.23 350.7,136.8 351.08,137.32 351.14,137.95 350.87,138.56 350.26,139.02 349.3,139.2 348.1,139.2 347.3,140.1 347.65,140.78 348.18,141.39 348.85,141.95 349.65,142.47 350.56,142.99 351.55,143.53 352.6,144.1 352.98,144.62 353.04,145.25 352.77,145.86 352.16,146.32 351.2,146.5 348.1,146.5 347.3,147 347.55,147.5 347.8,147.97 348.1,148.44 348.5,148.91 349.04,149.4 349.76,149.93 350.7,150.5 351.08,151.02 351.14,151.65 350.87,152.26 350.26,152.72 349.3,152.9 348.1,152.9 347.3,153.8 347.65,154.56 348.18,155.22 348.85,155.81 349.65,156.36 350.56,156.89 351.55,157.43 352.6,158 352.98,158.52 353.04,159.15 352.77,159.76 352.16,160.22 351.2,160.4 348.1,160.4 327.9,160.4 324.8,160.4 323.84,160.22 323.23,159.76 322.96,159.15 323.02,158.52 323.4,158 324.45,157.43 325.44,156.89 326.35,156.36 327.15,155.81 327.82,155.22 328.35,154.56 328.7,153.8 327.9,152.9 326.7,152.9 325.74,152.72 325.13,152.26 324.86,151.65 324.92,151.02 325.3,150.5 326.24,149.93 326.96,149.4 327.5,148.91 327.9,148.44 328.2,147.97 328.45,147.5 328.7,147 327.9,146.5 324.8,146.5 323.84,146.32 323.23,145.86 322.96,145.25 323.02,144.62 323.4,144.1 324.45,143.53 325.44,142.99 326.35,142.47 327.15,141.95 327.82,141.39 328.35,140.78 328.7,140.1 327.9,139.2 326.7,139.2 325.74,139.02 325.13,138.56 324.86,137.95 324.92,137.32 325.3,136.8 326.24,136.23 326.96,135.7 327.5,135.21 327.9,134.74 328.2,134.27 328.45,133.8 328.7,133.3 327.9,132.7 324.8,132.7 323.84,132.52 323.23,132.06 322.96,131.45 323.02,130.82 323.4,130.3 324.45,129.72 325.43,129.17 326.31,128.59 327.06,127.96 327.64,127.23 328.03,126.35 328.2,125.3 328.2,123.9" fill="#fff" stroke="#1c1c1c" stroke-width="0.95"/>
<line x1="324.8" y1="132.7" x2="351.2" y2="132.7" stroke="#1c1c1c" stroke-width="0.95"/>
<line x1="330.4" y1="127.9" x2="345.6" y2="127.9" stroke="#5c5c5c" stroke-width="1.2"/>
<line x1="326.7" y1="139.2" x2="349.3" y2="139.2" stroke="#1c1c1c" stroke-width="0.95"/>
<line x1="330.4" y1="134.4" x2="345.6" y2="134.4" stroke="#5c5c5c" stroke-width="1.2"/>
<line x1="324.8" y1="146.5" x2="351.2" y2="146.5" stroke="#1c1c1c" stroke-width="0.95"/>
<line x1="330.4" y1="141.7" x2="345.6" y2="141.7" stroke="#5c5c5c" stroke-width="1.2"/>
<line x1="326.7" y1="152.9" x2="349.3" y2="152.9" stroke="#1c1c1c" stroke-width="0.95"/>
<line x1="330.4" y1="148.1" x2="345.6" y2="148.1" stroke="#5c5c5c" stroke-width="1.2"/>
<line x1="324.8" y1="160.4" x2="351.2" y2="160.4" stroke="#1c1c1c" stroke-width="0.95"/>
<line x1="330.4" y1="155.6" x2="345.6" y2="155.6" stroke="#5c5c5c" stroke-width="1.2"/>
<rect x="326.4" y="114.2" width="23.2" height="9.7" rx="1.6" stroke="#1c1c1c" stroke-width="0.95" fill="#fff"/>
<polygon points="333,119 335.5,114.7 340.5,114.7 343,119 340.5,123.3 335.5,123.3" fill="none" stroke="#1c1c1c" stroke-width="0.85"/>
<circle cx="338" cy="119" r="3.4" stroke="#1c1c1c" stroke-width="0.85" fill="none"/>
<circle cx="338" cy="119" r="2.2" stroke="#1c1c1c" stroke-width="0" fill="#2a2a2a"/>
<line x1="338" y1="102.5" x2="338" y2="182.5" stroke="#1c1c1c" stroke-width="0.9"/>
<line x1="327.1" y1="160.4" x2="327.1" y2="163.49" stroke="#1c1c1c" stroke-width="0.8"/>
<polygon points="323.8,167.48 323.8,166.68 324.8,165.78 324.8,163.49 325.6,162.49 328.6,162.49 329.4,163.49 329.4,165.78 330.4,166.68 330.4,167.48" fill="#1c1c1c" stroke="#1c1c1c" stroke-width="0.4"/>
<rect x="326.1" y="163.39" width="2" height="1.3" rx="0.5" stroke="#1c1c1c" stroke-width="0" fill="#a8a8a8"/>
<line x1="338" y1="160.4" x2="338" y2="163.49" stroke="#1c1c1c" stroke-width="0.8"/>
<polygon points="334.7,167.48 334.7,166.68 335.7,165.78 335.7,163.49 336.5,162.49 339.5,162.49 340.3,163.49 340.3,165.78 341.3,166.68 341.3,167.48" fill="#1c1c1c" stroke="#1c1c1c" stroke-width="0.4"/>
<rect x="337" y="163.39" width="2" height="1.3" rx="0.5" stroke="#1c1c1c" stroke-width="0" fill="#a8a8a8"/>
<line x1="349.1" y1="160.4" x2="349.1" y2="163.49" stroke="#1c1c1c" stroke-width="0.8"/>
<polygon points="345.8,167.48 345.8,166.68 346.8,165.78 346.8,163.49 347.6,162.49 350.6,162.49 351.4,163.49 351.4,165.78 352.4,166.68 352.4,167.48" fill="#1c1c1c" stroke="#1c1c1c" stroke-width="0.4"/>
<rect x="348.1" y="163.39" width="2" height="1.3" rx="0.5" stroke="#1c1c1c" stroke-width="0" fill="#a8a8a8"/>
<path d="M320.4 176.5 L320.8 172.48 Q321.4 167.68 326 167.48 L330.6 167.48" stroke="#1c1c1c" stroke-width="0.95" fill="none"/>
<path d="M326.6 176.5 L326.6 168.98 L330.8 168.98 Q332.4 168.98 332.4 170.38 L332.4 171.08 Q332.4 172.48 331 172.48 L329 172.48 L329 176" stroke="#1c1c1c" stroke-width="1.15" fill="none"/>
<line x1="329" y1="175.2" x2="334.6" y2="175.2" stroke="#333" stroke-width="0.9"/>
<path d="M356 176.5 L355.6 172.48 Q355 167.68 350.4 167.48 L345.6 167.48" stroke="#1c1c1c" stroke-width="0.95" fill="none"/>
<path d="M344.4 169.48 L347.6 169.48 Q349.2 169.48 349.2 171.08 L349.2 171.88" stroke="#1c1c1c" stroke-width="1.15" fill="none"/>
<line x1="349.2" y1="171.88" x2="349.2" y2="175.2" stroke="#777" stroke-width="1.2"/>
<path d="M344.4 169.48 L344.4 171.68 L346.6 171.68" stroke="#444" stroke-width="0.8" fill="none"/>
<line x1="341.4" y1="175.2" x2="349.2" y2="175.2" stroke="#333" stroke-width="0.9"/>
<rect x="334.1" y="167.68" width="8" height="7.82" rx="2.6" stroke="#1c1c1c" stroke-width="0.9" fill="none"/>
<rect x="336" y="168.88" width="1.5" height="5.42" rx="0" stroke="#555" stroke-width="0.5" fill="#8c8c8c"/>
<rect x="339" y="168.88" width="1.6" height="5.42" rx="0" stroke="#555" stroke-width="0.5" fill="#b0b0b0"/>
<rect x="370.4" y="96.7" width="5" height="6.2" rx="0" stroke="#333" stroke-width="0.7" fill="#d8d8d8"/>
<line x1="369.9" y1="97.4" x2="375.9" y2="97.4" stroke="#222" stroke-width="0.7"/>
<line x1="369.9" y1="98.65" x2="375.9" y2="98.65" stroke="#222" stroke-width="0.7"/>
<line x1="369.9" y1="99.9" x2="375.9" y2="99.9" stroke="#222" stroke-width="0.7"/>
<line x1="369.9" y1="101.15" x2="375.9" y2="101.15" stroke="#222" stroke-width="0.7"/>
<line x1="369.9" y1="102.4" x2="375.9" y2="102.4" stroke="#222" stroke-width="0.7"/>
<polygon points="375.3,102.9 375.79,104.02 376.53,105.07 377.47,106.06 378.56,107 379.75,107.88 380.98,108.71 382.2,109.5 382.2,114.2 363.6,114.2 363.6,109.5 364.82,108.71 366.05,107.88 367.24,107 368.33,106.06 369.27,105.07 370.01,104.02 370.5,102.9" fill="#fff" stroke="#1c1c1c" stroke-width="0.95"/>
<line x1="363.6" y1="109.6" x2="382.2" y2="109.6" stroke="#1c1c1c" stroke-width="0.9"/>
<line x1="365.1" y1="112" x2="380.7" y2="112" stroke="#8c8c8c" stroke-width="0.9"/>
<polygon points="382.7,123.9 382.7,125.3 382.87,126.35 383.26,127.23 383.84,127.96 384.59,128.59 385.47,129.17 386.45,129.72 387.5,130.3 387.88,130.82 387.94,131.45 387.67,132.06 387.06,132.52 386.1,132.7 383,132.7 382.2,133.3 382.45,133.8 382.7,134.27 383,134.74 383.4,135.21 383.94,135.7 384.66,136.23 385.6,136.8 385.98,137.32 386.04,137.95 385.77,138.56 385.16,139.02 384.2,139.2 383,139.2 382.2,140.1 382.55,140.78 383.08,141.39 383.75,141.95 384.55,142.47 385.46,142.99 386.45,143.53 387.5,144.1 387.88,144.62 387.94,145.25 387.67,145.86 387.06,146.32 386.1,146.5 383,146.5 382.2,147 382.45,147.5 382.7,147.97 383,148.44 383.4,148.91 383.94,149.4 384.66,149.93 385.6,150.5 385.98,151.02 386.04,151.65 385.77,152.26 385.16,152.72 384.2,152.9 383,152.9 382.2,153.8 382.55,154.56 383.08,155.22 383.75,155.81 384.55,156.36 385.46,156.89 386.45,157.43 387.5,158 387.88,158.52 387.94,159.15 387.67,159.76 387.06,160.22 386.1,160.4 383,160.4 362.8,160.4 359.7,160.4 358.74,160.22 358.13,159.76 357.86,159.15 357.92,158.52 358.3,158 359.35,157.43 360.34,156.89 361.25,156.36 362.05,155.81 362.72,155.22 363.25,154.56 363.6,153.8 362.8,152.9 361.6,152.9 360.64,152.72 360.03,152.26 359.76,151.65 359.82,151.02 360.2,150.5 361.14,149.93 361.86,149.4 362.4,148.91 362.8,148.44 363.1,147.97 363.35,147.5 363.6,147 362.8,146.5 359.7,146.5 358.74,146.32 358.13,145.86 357.86,145.25 357.92,144.62 358.3,144.1 359.35,143.53 360.34,142.99 361.25,142.47 362.05,141.95 362.72,141.39 363.25,140.78 363.6,140.1 362.8,139.2 361.6,139.2 360.64,139.02 360.03,138.56 359.76,137.95 359.82,137.32 360.2,136.8 361.14,136.23 361.86,135.7 362.4,135.21 362.8,134.74 363.1,134.27 363.35,133.8 363.6,133.3 362.8,132.7 359.7,132.7 358.74,132.52 358.13,132.06 357.86,131.45 357.92,130.82 358.3,130.3 359.35,129.72 360.33,129.17 361.21,128.59 361.96,127.96 362.54,127.23 362.93,126.35 363.1,125.3 363.1,123.9" fill="#fff" stroke="#1c1c1c" stroke-width="0.95"/>
<line x1="359.7" y1="132.7" x2="386.1" y2="132.7" stroke="#1c1c1c" stroke-width="0.95"/>
<line x1="365.3" y1="127.9" x2="380.5" y2="127.9" stroke="#5c5c5c" stroke-width="1.2"/>
<line x1="361.6" y1="139.2" x2="384.2" y2="139.2" stroke="#1c1c1c" stroke-width="0.95"/>
<line x1="365.3" y1="134.4" x2="380.5" y2="134.4" stroke="#5c5c5c" stroke-width="1.2"/>
<line x1="359.7" y1="146.5" x2="386.1" y2="146.5" stroke="#1c1c1c" stroke-width="0.95"/>
<line x1="365.3" y1="141.7" x2="380.5" y2="141.7" stroke="#5c5c5c" stroke-width="1.2"/>
<line x1="361.6" y1="152.9" x2="384.2" y2="152.9" stroke="#1c1c1c" stroke-width="0.95"/>
<line x1="365.3" y1="148.1" x2="380.5" y2="148.1" stroke="#5c5c5c" stroke-width="1.2"/>
<line x1="359.7" y1="160.4" x2="386.1" y2="160.4" stroke="#1c1c1c" stroke-width="0.95"/>
<line x1="365.3" y1="155.6" x2="380.5" y2="155.6" stroke="#5c5c5c" stroke-width="1.2"/>
<rect x="361.3" y="114.2" width="23.2" height="9.7" rx="1.6" stroke="#1c1c1c" stroke-width="0.95" fill="#fff"/>
<polygon points="367.9,119 370.4,114.7 375.4,114.7 377.9,119 375.4,123.3 370.4,123.3" fill="none" stroke="#1c1c1c" stroke-width="0.85"/>
<circle cx="372.9" cy="119" r="3.4" stroke="#1c1c1c" stroke-width="0.85" fill="none"/>
<circle cx="372.9" cy="119" r="2.2" stroke="#1c1c1c" stroke-width="0" fill="#2a2a2a"/>
<line x1="372.9" y1="102.5" x2="372.9" y2="182.5" stroke="#1c1c1c" stroke-width="0.9"/>
<line x1="362" y1="160.4" x2="362" y2="163.49" stroke="#1c1c1c" stroke-width="0.8"/>
<polygon points="358.7,167.48 358.7,166.68 359.7,165.78 359.7,163.49 360.5,162.49 363.5,162.49 364.3,163.49 364.3,165.78 365.3,166.68 365.3,167.48" fill="#1c1c1c" stroke="#1c1c1c" stroke-width="0.4"/>
<rect x="361" y="163.39" width="2" height="1.3" rx="0.5" stroke="#1c1c1c" stroke-width="0" fill="#a8a8a8"/>
<line x1="372.9" y1="160.4" x2="372.9" y2="163.49" stroke="#1c1c1c" stroke-width="0.8"/>
<polygon points="369.6,167.48 369.6,166.68 370.6,165.78 370.6,163.49 371.4,162.49 374.4,162.49 375.2,163.49 375.2,165.78 376.2,166.68 376.2,167.48" fill="#1c1c1c" stroke="#1c1c1c" stroke-width="0.4"/>
<rect x="371.9" y="163.39" width="2" height="1.3" rx="0.5" stroke="#1c1c1c" stroke-width="0" fill="#a8a8a8"/>
<line x1="384" y1="160.4" x2="384" y2="163.49" stroke="#1c1c1c" stroke-width="0.8"/>
<polygon points="380.7,167.48 380.7,166.68 381.7,165.78 381.7,163.49 382.5,162.49 385.5,162.49 386.3,163.49 386.3,165.78 387.3,166.68 387.3,167.48" fill="#1c1c1c" stroke="#1c1c1c" stroke-width="0.4"/>
<rect x="383" y="163.39" width="2" height="1.3" rx="0.5" stroke="#1c1c1c" stroke-width="0" fill="#a8a8a8"/>
<path d="M355.3 176.5 L355.7 172.48 Q356.3 167.68 360.9 167.48 L365.5 167.48" stroke="#1c1c1c" stroke-width="0.95" fill="none"/>
<path d="M361.5 176.5 L361.5 168.98 L365.7 168.98 Q367.3 168.98 367.3 170.38 L367.3 171.08 Q367.3 172.48 365.9 172.48 L363.9 172.48 L363.9 176" stroke="#1c1c1c" stroke-width="1.15" fill="none"/>
<line x1="363.9" y1="175.2" x2="369.5" y2="175.2" stroke="#333" stroke-width="0.9"/>
<path d="M390.9 176.5 L390.5 172.48 Q389.9 167.68 385.3 167.48 L380.5 167.48" stroke="#1c1c1c" stroke-width="0.95" fill="none"/>
<path d="M379.3 169.48 L382.5 169.48 Q384.1 169.48 384.1 171.08 L384.1 171.88" stroke="#1c1c1c" stroke-width="1.15" fill="none"/>
<line x1="384.1" y1="171.88" x2="384.1" y2="175.2" stroke="#777" stroke-width="1.2"/>
<path d="M379.3 169.48 L379.3 171.68 L381.5 171.68" stroke="#444" stroke-width="0.8" fill="none"/>
<line x1="376.3" y1="175.2" x2="384.1" y2="175.2" stroke="#333" stroke-width="0.9"/>
<rect x="369" y="167.68" width="8" height="7.82" rx="2.6" stroke="#1c1c1c" stroke-width="0.9" fill="none"/>
<rect x="370.9" y="168.88" width="1.5" height="5.42" rx="0" stroke="#555" stroke-width="0.5" fill="#8c8c8c"/>
<rect x="373.9" y="168.88" width="1.6" height="5.42" rx="0" stroke="#555" stroke-width="0.5" fill="#b0b0b0"/>
<line x1="311.8" y1="176.5" x2="401" y2="176.5" stroke="#1c1c1c" stroke-width="1"/>
<line x1="311.8" y1="178.5" x2="401" y2="178.5" stroke="#1c1c1c" stroke-width="1"/>
<path d="M311.23 178.78 L316.17 178.78 L316.17 179.63 L313.7 183.15 L311.23 179.63 Z" stroke="#1c1c1c" stroke-width="0.85" fill="#9c9c9c"/>
<path d="M313.7 174.22 L315.88 176.31 L315.88 178.88 L311.51 178.88 L311.51 176.31 Z" stroke="#1c1c1c" stroke-width="0.3" fill="#242424"/>
<path d="M318.43 178.78 L323.37 178.78 L323.37 179.63 L320.9 183.15 L318.43 179.63 Z" stroke="#1c1c1c" stroke-width="0.85" fill="#9c9c9c"/>
<path d="M320.9 174.22 L323.08 176.31 L323.08 178.88 L318.71 178.88 L318.71 176.31 Z" stroke="#1c1c1c" stroke-width="0.3" fill="#242424"/>
<path d="M335.53 178.78 L340.47 178.78 L340.47 179.63 L338 183.15 L335.53 179.63 Z" stroke="#1c1c1c" stroke-width="0.85" fill="#9c9c9c"/>
<path d="M338 174.22 L340.19 176.31 L340.19 178.88 L335.81 178.88 L335.81 176.31 Z" stroke="#1c1c1c" stroke-width="0.3" fill="#242424"/>
<path d="M353.03 178.78 L357.97 178.78 L357.97 179.63 L355.5 183.15 L353.03 179.63 Z" stroke="#1c1c1c" stroke-width="0.85" fill="#9c9c9c"/>
<path d="M355.5 174.22 L357.69 176.31 L357.69 178.88 L353.31 178.88 L353.31 176.31 Z" stroke="#1c1c1c" stroke-width="0.3" fill="#242424"/>
<path d="M370.43 178.78 L375.37 178.78 L375.37 179.63 L372.9 183.15 L370.43 179.63 Z" stroke="#1c1c1c" stroke-width="0.85" fill="#9c9c9c"/>
<path d="M372.9 174.22 L375.08 176.31 L375.08 178.88 L370.71 178.88 L370.71 176.31 Z" stroke="#1c1c1c" stroke-width="0.3" fill="#242424"/>
<path d="M387.53 178.78 L392.47 178.78 L392.47 179.63 L390 183.15 L387.53 179.63 Z" stroke="#1c1c1c" stroke-width="0.85" fill="#9c9c9c"/>
<path d="M390 174.22 L392.19 176.31 L392.19 178.88 L387.81 178.88 L387.81 176.31 Z" stroke="#1c1c1c" stroke-width="0.3" fill="#242424"/>
<path d="M396.43 178.78 L401.37 178.78 L401.37 179.63 L398.9 183.15 L396.43 179.63 Z" stroke="#1c1c1c" stroke-width="0.85" fill="#9c9c9c"/>
<path d="M398.9 174.22 L401.08 176.31 L401.08 178.88 L396.71 178.88 L396.71 176.31 Z" stroke="#1c1c1c" stroke-width="0.3" fill="#242424"/>
<line x1="317.6" y1="178.5" x2="317.6" y2="260.4" stroke="#1c1c1c" stroke-width="1"/>
<line x1="396.7" y1="178.5" x2="396.7" y2="260.4" stroke="#1c1c1c" stroke-width="1"/>
<rect x="345.8" y="185.8" width="20.1" height="27.9" rx="0" stroke="#1c1c1c" stroke-width="1" fill="none"/>
<line x1="317.6" y1="231.2" x2="343.4" y2="231.2" stroke="#1c1c1c" stroke-width="1"/>
<polygon points="343.4,231.2 338.7,229.2 338.7,233.2" fill="#1c1c1c"/>
<line x1="371.6" y1="231.2" x2="396.7" y2="231.2" stroke="#1c1c1c" stroke-width="1"/>
<polygon points="371.6,231.2 376.3,229.2 376.3,233.2" fill="#1c1c1c"/>
<text class="t" x="358.9" y="235.1" font-size="11" text-anchor="middle" letter-spacing="0.45">250</text>
<rect x="313.9" y="260.4" width="86.7" height="4.8" rx="1.2" stroke="#1c1c1c" stroke-width="1" fill="none"/>
<line x1="313.9" y1="263" x2="313.9" y2="296" stroke="#1c1c1c" stroke-width="1"/>
<line x1="400.6" y1="263" x2="400.6" y2="296" stroke="#1c1c1c" stroke-width="1"/>
<line x1="319.7" y1="255.8" x2="319.7" y2="281" stroke="#1c1c1c" stroke-width="1"/>
<line x1="394.7" y1="255.8" x2="394.7" y2="281" stroke="#1c1c1c" stroke-width="1"/>
<line x1="322.2" y1="278.9" x2="392.2" y2="278.9" stroke="#1c1c1c" stroke-width="1"/>
<polygon points="321.2,278.9 325.9,276.9 325.9,280.9" fill="#1c1c1c"/>
<polygon points="393.2,278.9 388.5,276.9 388.5,280.9" fill="#1c1c1c"/>
<line x1="316.4" y1="292.3" x2="398.1" y2="292.3" stroke="#1c1c1c" stroke-width="1"/>
<polygon points="315.4,292.3 320.1,290.3 320.1,294.3" fill="#1c1c1c"/>
<polygon points="399.1,292.3 394.4,290.3 394.4,294.3" fill="#1c1c1c"/>
<text class="t" x="356.9" y="276.8" font-size="11" text-anchor="middle" textLength="35" lengthAdjust="spacing">350 ± 5</text>
<text class="t" x="358.2" y="288.8" font-size="11" text-anchor="middle" letter-spacing="0.45">305</text>
<line x1="514.6" y1="83" x2="514.6" y2="91.3" stroke="#1c1c1c" stroke-width="0.9"/>
<line x1="562.6" y1="83" x2="562.6" y2="91.3" stroke="#1c1c1c" stroke-width="0.9"/>
<line x1="609.8" y1="83" x2="609.8" y2="91.3" stroke="#1c1c1c" stroke-width="0.9"/>
<line x1="517.1" y1="85.4" x2="560.1" y2="85.4" stroke="#1c1c1c" stroke-width="1"/>
<polygon points="516.1,85.4 520.8,83.4 520.8,87.4" fill="#1c1c1c"/>
<polygon points="561.1,85.4 556.4,83.4 556.4,87.4" fill="#1c1c1c"/>
<line x1="565.1" y1="85.4" x2="607.3" y2="85.4" stroke="#1c1c1c" stroke-width="1"/>
<polygon points="564.1,85.4 568.8,83.4 568.8,87.4" fill="#1c1c1c"/>
<polygon points="608.3,85.4 603.6,83.4 603.6,87.4" fill="#1c1c1c"/>
<text class="t" x="538.9" y="82.8" font-size="11" text-anchor="middle" letter-spacing="0.45">210</text>
<text class="t" x="586.8" y="82.8" font-size="11" text-anchor="middle" letter-spacing="0.45">210</text>
<rect x="512.51" y="91.3" width="4.17" height="5.18" rx="0" stroke="#333" stroke-width="0.7" fill="#d8d8d8"/>
<line x1="512.1" y1="91.88" x2="517.11" y2="91.88" stroke="#222" stroke-width="0.7"/>
<line x1="512.1" y1="92.93" x2="517.11" y2="92.93" stroke="#222" stroke-width="0.7"/>
<line x1="512.1" y1="93.97" x2="517.11" y2="93.97" stroke="#222" stroke-width="0.7"/>
<line x1="512.1" y1="95.02" x2="517.11" y2="95.02" stroke="#222" stroke-width="0.7"/>
<line x1="512.1" y1="96.06" x2="517.11" y2="96.06" stroke="#222" stroke-width="0.7"/>
<polygon points="516.6,96.48 517.01,97.41 517.63,98.29 518.42,99.12 519.33,99.9 520.32,100.63 521.35,101.33 522.37,101.99 522.37,105.91 506.83,105.91 506.83,101.99 507.85,101.33 508.88,100.63 509.87,99.9 510.78,99.12 511.57,98.29 512.19,97.41 512.6,96.48" fill="none" stroke="#1c1c1c" stroke-width="0.95"/>
<line x1="506.83" y1="102.07" x2="522.37" y2="102.07" stroke="#1c1c1c" stroke-width="0.9"/>
<line x1="508.09" y1="104.08" x2="521.11" y2="104.08" stroke="#8c8c8c" stroke-width="0.9"/>
<polygon points="522.78,114.01 522.78,115.18 522.89,116.22 523.15,117.06 523.54,117.74 524.06,118.32 524.7,118.82 525.44,119.29 526.29,119.77 526.61,120.21 526.66,120.73 526.43,121.24 525.92,121.63 525.12,121.78 523.03,121.78 522.37,122.45 522.6,122.86 522.88,123.26 523.23,123.65 523.67,124.04 524.22,124.45 524.89,124.89 525.71,125.37 526.02,125.8 526.08,126.33 525.85,126.83 525.34,127.22 524.54,127.37 523.03,127.37 522.37,127.96 522.63,128.37 523,128.77 523.46,129.16 524.03,129.55 524.69,129.96 525.44,130.4 526.29,130.88 526.61,131.31 526.66,131.84 526.43,132.35 525.92,132.73 525.12,132.88 523.03,132.88 522.37,133.47 522.6,133.88 522.88,134.28 523.23,134.67 523.67,135.06 524.22,135.47 524.89,135.91 525.71,136.39 526.02,136.82 526.08,137.35 525.85,137.86 525.34,138.24 524.54,138.39 523.03,138.39 522.37,139.15 522.63,139.62 523,140.06 523.46,140.48 524.03,140.9 524.69,141.32 525.44,141.76 526.29,142.23 526.61,142.67 526.66,143.19 526.43,143.7 525.92,144.09 525.12,144.24 523.03,144.24 506.17,144.24 504.08,144.24 503.28,144.09 502.77,143.7 502.54,143.19 502.59,142.67 502.91,142.23 503.76,141.76 504.51,141.32 505.17,140.9 505.74,140.48 506.2,140.06 506.57,139.62 506.83,139.15 506.17,138.39 504.66,138.39 503.86,138.24 503.35,137.86 503.12,137.35 503.18,136.82 503.49,136.39 504.31,135.91 504.98,135.47 505.53,135.06 505.97,134.67 506.32,134.28 506.6,133.88 506.83,133.47 506.17,132.88 504.08,132.88 503.28,132.73 502.77,132.35 502.54,131.84 502.59,131.31 502.91,130.88 503.76,130.4 504.51,129.96 505.17,129.55 505.74,129.16 506.2,128.77 506.57,128.37 506.83,127.96 506.17,127.37 504.66,127.37 503.86,127.22 503.35,126.83 503.12,126.33 503.18,125.8 503.49,125.37 504.31,124.89 504.98,124.45 505.53,124.04 505.97,123.65 506.32,123.26 506.6,122.86 506.83,122.45 506.17,121.78 504.08,121.78 503.28,121.63 502.77,121.24 502.54,120.73 502.59,120.21 502.91,119.77 503.76,119.29 504.5,118.82 505.14,118.32 505.66,117.74 506.05,117.06 506.31,116.22 506.42,115.18 506.42,114.01" fill="none" stroke="#1c1c1c" stroke-width="0.95"/>
<line x1="504.08" y1="121.78" x2="525.12" y2="121.78" stroke="#1c1c1c" stroke-width="0.95"/>
<line x1="508.25" y1="117.77" x2="520.95" y2="117.77" stroke="#5c5c5c" stroke-width="1.2"/>
<line x1="504.66" y1="127.37" x2="524.54" y2="127.37" stroke="#1c1c1c" stroke-width="0.95"/>
<line x1="508.25" y1="123.36" x2="520.95" y2="123.36" stroke="#5c5c5c" stroke-width="1.2"/>
<line x1="504.08" y1="132.88" x2="525.12" y2="132.88" stroke="#1c1c1c" stroke-width="0.95"/>
<line x1="508.25" y1="128.88" x2="520.95" y2="128.88" stroke="#5c5c5c" stroke-width="1.2"/>
<line x1="504.66" y1="138.39" x2="524.54" y2="138.39" stroke="#1c1c1c" stroke-width="0.95"/>
<line x1="508.25" y1="134.39" x2="520.95" y2="134.39" stroke="#5c5c5c" stroke-width="1.2"/>
<line x1="504.08" y1="144.24" x2="525.12" y2="144.24" stroke="#1c1c1c" stroke-width="0.95"/>
<line x1="508.25" y1="140.23" x2="520.95" y2="140.23" stroke="#5c5c5c" stroke-width="1.2"/>
<rect x="504.91" y="105.91" width="19.37" height="8.1" rx="1.34" stroke="#1c1c1c" stroke-width="0.95" fill="none"/>
<polygon points="510.43,109.92 512.51,106.33 516.69,106.33 518.77,109.92 516.69,113.51 512.51,113.51" fill="none" stroke="#1c1c1c" stroke-width="0.85"/>
<circle cx="514.6" cy="109.92" r="2.84" stroke="#1c1c1c" stroke-width="0.85" fill="none"/>
<circle cx="514.6" cy="109.92" r="1.84" stroke="#1c1c1c" stroke-width="0" fill="#2a2a2a"/>
<line x1="514.6" y1="96.14" x2="514.6" y2="163.4" stroke="#1c1c1c" stroke-width="0.9"/>
<line x1="505.5" y1="144.24" x2="505.5" y2="147.08" stroke="#1c1c1c" stroke-width="0.8"/>
<polygon points="502.74,149.48 502.74,148.81 503.58,148.06 503.58,146.91 504.25,146.08 506.75,146.08 507.42,146.91 507.42,148.06 508.25,148.81 508.25,149.48" fill="#1c1c1c" stroke="#1c1c1c" stroke-width="0.4"/>
<rect x="504.66" y="146.83" width="1.67" height="1.09" rx="0.5" stroke="#1c1c1c" stroke-width="0" fill="#a8a8a8"/>
<line x1="514.6" y1="144.24" x2="514.6" y2="147.08" stroke="#1c1c1c" stroke-width="0.8"/>
<polygon points="511.84,149.48 511.84,148.81 512.68,148.06 512.68,146.91 513.35,146.08 515.85,146.08 516.52,146.91 516.52,148.06 517.36,148.81 517.36,149.48" fill="#1c1c1c" stroke="#1c1c1c" stroke-width="0.4"/>
<rect x="513.76" y="146.83" width="1.67" height="1.09" rx="0.5" stroke="#1c1c1c" stroke-width="0" fill="#a8a8a8"/>
<line x1="523.87" y1="144.24" x2="523.87" y2="147.08" stroke="#1c1c1c" stroke-width="0.8"/>
<polygon points="521.11,149.48 521.11,148.81 521.95,148.06 521.95,146.91 522.62,146.08 525.12,146.08 525.79,146.91 525.79,148.06 526.62,148.81 526.62,149.48" fill="#1c1c1c" stroke="#1c1c1c" stroke-width="0.4"/>
<rect x="523.03" y="146.83" width="1.67" height="1.09" rx="0.5" stroke="#1c1c1c" stroke-width="0" fill="#a8a8a8"/>
<path d="M499.9 158.4 L500.24 153.65 Q500.74 149.68 504.58 149.48 L508.42 149.48" stroke="#1c1c1c" stroke-width="0.95" fill="none"/>
<path d="M505.08 158.4 L505.08 150.73 L508.59 150.73 Q509.92 150.73 509.92 151.9 L509.92 152.48 Q509.92 153.65 508.75 153.65 L507.09 153.65 L507.09 157.98" stroke="#1c1c1c" stroke-width="1.15" fill="none"/>
<line x1="507.09" y1="157.31" x2="511.76" y2="157.31" stroke="#333" stroke-width="0.9"/>
<rect x="511.34" y="149.65" width="6.68" height="7.92" rx="2.17" stroke="#1c1c1c" stroke-width="0.9" fill="none"/>
<rect x="512.93" y="150.65" width="1.25" height="5.92" rx="0" stroke="#555" stroke-width="0.5" fill="#8c8c8c"/>
<rect x="515.44" y="150.65" width="1.34" height="5.92" rx="0" stroke="#555" stroke-width="0.5" fill="#b0b0b0"/>
<rect x="560.51" y="91.3" width="4.17" height="5.18" rx="0" stroke="#333" stroke-width="0.7" fill="#d8d8d8"/>
<line x1="560.1" y1="91.88" x2="565.11" y2="91.88" stroke="#222" stroke-width="0.7"/>
<line x1="560.1" y1="92.93" x2="565.11" y2="92.93" stroke="#222" stroke-width="0.7"/>
<line x1="560.1" y1="93.97" x2="565.11" y2="93.97" stroke="#222" stroke-width="0.7"/>
<line x1="560.1" y1="95.02" x2="565.11" y2="95.02" stroke="#222" stroke-width="0.7"/>
<line x1="560.1" y1="96.06" x2="565.11" y2="96.06" stroke="#222" stroke-width="0.7"/>
<polygon points="564.6,96.48 565.01,97.41 565.63,98.29 566.42,99.12 567.33,99.9 568.32,100.63 569.35,101.33 570.37,101.99 570.37,105.91 554.83,105.91 554.83,101.99 555.85,101.33 556.88,100.63 557.87,99.9 558.78,99.12 559.57,98.29 560.19,97.41 560.6,96.48" fill="none" stroke="#1c1c1c" stroke-width="0.95"/>
<line x1="554.83" y1="102.07" x2="570.37" y2="102.07" stroke="#1c1c1c" stroke-width="0.9"/>
<line x1="556.09" y1="104.08" x2="569.11" y2="104.08" stroke="#8c8c8c" stroke-width="0.9"/>
<polygon points="570.78,114.01 570.78,115.18 570.89,116.22 571.15,117.06 571.54,117.74 572.06,118.32 572.7,118.82 573.44,119.29 574.29,119.77 574.61,120.21 574.66,120.73 574.43,121.24 573.92,121.63 573.12,121.78 571.03,121.78 570.37,122.45 570.6,122.86 570.88,123.26 571.23,123.65 571.67,124.04 572.22,124.45 572.89,124.89 573.71,125.37 574.02,125.8 574.08,126.33 573.85,126.83 573.34,127.22 572.54,127.37 571.03,127.37 570.37,127.96 570.63,128.37 571,128.77 571.46,129.16 572.03,129.55 572.69,129.96 573.44,130.4 574.29,130.88 574.61,131.31 574.66,131.84 574.43,132.35 573.92,132.73 573.12,132.88 571.03,132.88 570.37,133.47 570.6,133.88 570.88,134.28 571.23,134.67 571.67,135.06 572.22,135.47 572.89,135.91 573.71,136.39 574.02,136.82 574.08,137.35 573.85,137.86 573.34,138.24 572.54,138.39 571.03,138.39 570.37,139.15 570.63,139.62 571,140.06 571.46,140.48 572.03,140.9 572.69,141.32 573.44,141.76 574.29,142.23 574.61,142.67 574.66,143.19 574.43,143.7 573.92,144.09 573.12,144.24 571.03,144.24 554.17,144.24 552.08,144.24 551.28,144.09 550.77,143.7 550.54,143.19 550.59,142.67 550.91,142.23 551.76,141.76 552.51,141.32 553.17,140.9 553.74,140.48 554.2,140.06 554.57,139.62 554.83,139.15 554.17,138.39 552.66,138.39 551.86,138.24 551.35,137.86 551.12,137.35 551.18,136.82 551.49,136.39 552.31,135.91 552.98,135.47 553.53,135.06 553.97,134.67 554.32,134.28 554.6,133.88 554.83,133.47 554.17,132.88 552.08,132.88 551.28,132.73 550.77,132.35 550.54,131.84 550.59,131.31 550.91,130.88 551.76,130.4 552.51,129.96 553.17,129.55 553.74,129.16 554.2,128.77 554.57,128.37 554.83,127.96 554.17,127.37 552.66,127.37 551.86,127.22 551.35,126.83 551.12,126.33 551.18,125.8 551.49,125.37 552.31,124.89 552.98,124.45 553.53,124.04 553.97,123.65 554.32,123.26 554.6,122.86 554.83,122.45 554.17,121.78 552.08,121.78 551.28,121.63 550.77,121.24 550.54,120.73 550.59,120.21 550.91,119.77 551.76,119.29 552.5,118.82 553.14,118.32 553.66,117.74 554.05,117.06 554.31,116.22 554.42,115.18 554.42,114.01" fill="none" stroke="#1c1c1c" stroke-width="0.95"/>
<line x1="552.08" y1="121.78" x2="573.12" y2="121.78" stroke="#1c1c1c" stroke-width="0.95"/>
<line x1="556.25" y1="117.77" x2="568.95" y2="117.77" stroke="#5c5c5c" stroke-width="1.2"/>
<line x1="552.66" y1="127.37" x2="572.54" y2="127.37" stroke="#1c1c1c" stroke-width="0.95"/>
<line x1="556.25" y1="123.36" x2="568.95" y2="123.36" stroke="#5c5c5c" stroke-width="1.2"/>
<line x1="552.08" y1="132.88" x2="573.12" y2="132.88" stroke="#1c1c1c" stroke-width="0.95"/>
<line x1="556.25" y1="128.88" x2="568.95" y2="128.88" stroke="#5c5c5c" stroke-width="1.2"/>
<line x1="552.66" y1="138.39" x2="572.54" y2="138.39" stroke="#1c1c1c" stroke-width="0.95"/>
<line x1="556.25" y1="134.39" x2="568.95" y2="134.39" stroke="#5c5c5c" stroke-width="1.2"/>
<line x1="552.08" y1="144.24" x2="573.12" y2="144.24" stroke="#1c1c1c" stroke-width="0.95"/>
<line x1="556.25" y1="140.23" x2="568.95" y2="140.23" stroke="#5c5c5c" stroke-width="1.2"/>
<rect x="552.91" y="105.91" width="19.37" height="8.1" rx="1.34" stroke="#1c1c1c" stroke-width="0.95" fill="none"/>
<polygon points="558.43,109.92 560.51,106.33 564.69,106.33 566.77,109.92 564.69,113.51 560.51,113.51" fill="none" stroke="#1c1c1c" stroke-width="0.85"/>
<circle cx="562.6" cy="109.92" r="2.84" stroke="#1c1c1c" stroke-width="0.85" fill="none"/>
<circle cx="562.6" cy="109.92" r="1.84" stroke="#1c1c1c" stroke-width="0" fill="#2a2a2a"/>
<line x1="562.6" y1="96.14" x2="562.6" y2="159.4" stroke="#1c1c1c" stroke-width="0.9"/>
<path d="M550.7 149.6 L551.5 147.2 L554.5 147.2 L555.3 149.6 Z" stroke="#1c1c1c" stroke-width="0.4" fill="#1c1c1c"/>
<line x1="553" y1="144.24" x2="553" y2="147.4" stroke="#1c1c1c" stroke-width="0.7"/>
<path d="M560.3 149.6 L561.1 147.2 L564.1 147.2 L564.9 149.6 Z" stroke="#1c1c1c" stroke-width="0.4" fill="#1c1c1c"/>
<line x1="562.6" y1="144.24" x2="562.6" y2="147.4" stroke="#1c1c1c" stroke-width="0.7"/>
<path d="M569.5 149.6 L570.3 147.2 L573.3 147.2 L574.1 149.6 Z" stroke="#1c1c1c" stroke-width="0.4" fill="#1c1c1c"/>
<line x1="571.8" y1="144.24" x2="571.8" y2="147.4" stroke="#1c1c1c" stroke-width="0.7"/>
<rect x="560" y="152.8" width="5.2" height="5" rx="1.4" stroke="#1c1c1c" stroke-width="0.8" fill="#9a9a9a"/>
<rect x="607.71" y="91.3" width="4.17" height="5.18" rx="0" stroke="#333" stroke-width="0.7" fill="#d8d8d8"/>
<line x1="607.29" y1="91.88" x2="612.3" y2="91.88" stroke="#222" stroke-width="0.7"/>
<line x1="607.29" y1="92.93" x2="612.3" y2="92.93" stroke="#222" stroke-width="0.7"/>
<line x1="607.29" y1="93.97" x2="612.3" y2="93.97" stroke="#222" stroke-width="0.7"/>
<line x1="607.29" y1="95.02" x2="612.3" y2="95.02" stroke="#222" stroke-width="0.7"/>
<line x1="607.29" y1="96.06" x2="612.3" y2="96.06" stroke="#222" stroke-width="0.7"/>
<polygon points="611.8,96.48 612.21,97.41 612.83,98.29 613.62,99.12 614.53,99.9 615.52,100.63 616.55,101.33 617.57,101.99 617.57,105.91 602.03,105.91 602.03,101.99 603.05,101.33 604.08,100.63 605.07,99.9 605.98,99.12 606.77,98.29 607.39,97.41 607.8,96.48" fill="none" stroke="#1c1c1c" stroke-width="0.95"/>
<line x1="602.03" y1="102.07" x2="617.57" y2="102.07" stroke="#1c1c1c" stroke-width="0.9"/>
<line x1="603.29" y1="104.08" x2="616.31" y2="104.08" stroke="#8c8c8c" stroke-width="0.9"/>
<polygon points="617.98,114.01 617.98,115.18 618.09,116.22 618.35,117.06 618.74,117.74 619.26,118.32 619.9,118.82 620.64,119.29 621.49,119.77 621.81,120.21 621.86,120.73 621.63,121.24 621.12,121.63 620.32,121.78 618.23,121.78 617.57,122.45 617.8,122.86 618.08,123.26 618.43,123.65 618.87,124.04 619.42,124.45 620.09,124.89 620.91,125.37 621.22,125.8 621.28,126.33 621.05,126.83 620.54,127.22 619.74,127.37 618.23,127.37 617.57,127.96 617.83,128.37 618.2,128.77 618.66,129.16 619.23,129.55 619.89,129.96 620.64,130.4 621.49,130.88 621.81,131.31 621.86,131.84 621.63,132.35 621.12,132.73 620.32,132.88 618.23,132.88 617.57,133.47 617.8,133.88 618.08,134.28 618.43,134.67 618.87,135.06 619.42,135.47 620.09,135.91 620.91,136.39 621.22,136.82 621.28,137.35 621.05,137.86 620.54,138.24 619.74,138.39 618.23,138.39 617.57,139.15 617.83,139.62 618.2,140.06 618.66,140.48 619.23,140.9 619.89,141.32 620.64,141.76 621.49,142.23 621.81,142.67 621.86,143.19 621.63,143.7 621.12,144.09 620.32,144.24 618.23,144.24 601.37,144.24 599.28,144.24 598.48,144.09 597.97,143.7 597.74,143.19 597.79,142.67 598.11,142.23 598.96,141.76 599.71,141.32 600.37,140.9 600.94,140.48 601.4,140.06 601.77,139.62 602.03,139.15 601.37,138.39 599.86,138.39 599.06,138.24 598.55,137.86 598.32,137.35 598.38,136.82 598.69,136.39 599.51,135.91 600.18,135.47 600.73,135.06 601.17,134.67 601.52,134.28 601.8,133.88 602.03,133.47 601.37,132.88 599.28,132.88 598.48,132.73 597.97,132.35 597.74,131.84 597.79,131.31 598.11,130.88 598.96,130.4 599.71,129.96 600.37,129.55 600.94,129.16 601.4,128.77 601.77,128.37 602.03,127.96 601.37,127.37 599.86,127.37 599.06,127.22 598.55,126.83 598.32,126.33 598.38,125.8 598.69,125.37 599.51,124.89 600.18,124.45 600.73,124.04 601.17,123.65 601.52,123.26 601.8,122.86 602.03,122.45 601.37,121.78 599.28,121.78 598.48,121.63 597.97,121.24 597.74,120.73 597.79,120.21 598.11,119.77 598.96,119.29 599.7,118.82 600.34,118.32 600.86,117.74 601.25,117.06 601.51,116.22 601.62,115.18 601.62,114.01" fill="none" stroke="#1c1c1c" stroke-width="0.95"/>
<line x1="599.28" y1="121.78" x2="620.32" y2="121.78" stroke="#1c1c1c" stroke-width="0.95"/>
<line x1="603.45" y1="117.77" x2="616.15" y2="117.77" stroke="#5c5c5c" stroke-width="1.2"/>
<line x1="599.86" y1="127.37" x2="619.74" y2="127.37" stroke="#1c1c1c" stroke-width="0.95"/>
<line x1="603.45" y1="123.36" x2="616.15" y2="123.36" stroke="#5c5c5c" stroke-width="1.2"/>
<line x1="599.28" y1="132.88" x2="620.32" y2="132.88" stroke="#1c1c1c" stroke-width="0.95"/>
<line x1="603.45" y1="128.88" x2="616.15" y2="128.88" stroke="#5c5c5c" stroke-width="1.2"/>
<line x1="599.86" y1="138.39" x2="619.74" y2="138.39" stroke="#1c1c1c" stroke-width="0.95"/>
<line x1="603.45" y1="134.39" x2="616.15" y2="134.39" stroke="#5c5c5c" stroke-width="1.2"/>
<line x1="599.28" y1="144.24" x2="620.32" y2="144.24" stroke="#1c1c1c" stroke-width="0.95"/>
<line x1="603.45" y1="140.23" x2="616.15" y2="140.23" stroke="#5c5c5c" stroke-width="1.2"/>
<rect x="600.11" y="105.91" width="19.37" height="8.1" rx="1.34" stroke="#1c1c1c" stroke-width="0.95" fill="none"/>
<polygon points="605.62,109.92 607.71,106.33 611.89,106.33 613.97,109.92 611.89,113.51 607.71,113.51" fill="none" stroke="#1c1c1c" stroke-width="0.85"/>
<circle cx="609.8" cy="109.92" r="2.84" stroke="#1c1c1c" stroke-width="0.85" fill="none"/>
<circle cx="609.8" cy="109.92" r="1.84" stroke="#1c1c1c" stroke-width="0" fill="#2a2a2a"/>
<line x1="609.8" y1="96.14" x2="609.8" y2="163.4" stroke="#1c1c1c" stroke-width="0.9"/>
<line x1="600.7" y1="144.24" x2="600.7" y2="147.08" stroke="#1c1c1c" stroke-width="0.8"/>
<polygon points="597.94,149.48 597.94,148.81 598.78,148.06 598.78,146.91 599.45,146.08 601.95,146.08 602.62,146.91 602.62,148.06 603.45,148.81 603.45,149.48" fill="#1c1c1c" stroke="#1c1c1c" stroke-width="0.4"/>
<rect x="599.86" y="146.83" width="1.67" height="1.09" rx="0.5" stroke="#1c1c1c" stroke-width="0" fill="#a8a8a8"/>
<line x1="609.8" y1="144.24" x2="609.8" y2="147.08" stroke="#1c1c1c" stroke-width="0.8"/>
<polygon points="607.04,149.48 607.04,148.81 607.88,148.06 607.88,146.91 608.55,146.08 611.05,146.08 611.72,146.91 611.72,148.06 612.56,148.81 612.56,149.48" fill="#1c1c1c" stroke="#1c1c1c" stroke-width="0.4"/>
<rect x="608.96" y="146.83" width="1.67" height="1.09" rx="0.5" stroke="#1c1c1c" stroke-width="0" fill="#a8a8a8"/>
<line x1="619.07" y1="144.24" x2="619.07" y2="147.08" stroke="#1c1c1c" stroke-width="0.8"/>
<polygon points="616.31,149.48 616.31,148.81 617.15,148.06 617.15,146.91 617.82,146.08 620.32,146.08 620.99,146.91 620.99,148.06 621.82,148.81 621.82,149.48" fill="#1c1c1c" stroke="#1c1c1c" stroke-width="0.4"/>
<rect x="618.23" y="146.83" width="1.67" height="1.09" rx="0.5" stroke="#1c1c1c" stroke-width="0" fill="#a8a8a8"/>
<path d="M624.83 158.4 L624.5 153.65 Q624 149.68 620.15 149.48 L616.15 149.48" stroke="#1c1c1c" stroke-width="0.95" fill="none"/>
<path d="M615.14 151.15 L617.82 151.15 Q619.15 151.15 619.15 152.48 L619.15 153.15" stroke="#1c1c1c" stroke-width="1.15" fill="none"/>
<line x1="619.15" y1="153.15" x2="619.15" y2="157.31" stroke="#777" stroke-width="1.2"/>
<path d="M615.14 151.15 L615.14 152.99 L616.98 152.99" stroke="#444" stroke-width="0.8" fill="none"/>
<line x1="612.64" y1="157.31" x2="619.15" y2="157.31" stroke="#333" stroke-width="0.9"/>
<rect x="606.54" y="149.65" width="6.68" height="7.92" rx="2.17" stroke="#1c1c1c" stroke-width="0.9" fill="none"/>
<rect x="608.13" y="150.65" width="1.25" height="5.92" rx="0" stroke="#555" stroke-width="0.5" fill="#8c8c8c"/>
<rect x="610.63" y="150.65" width="1.34" height="5.92" rx="0" stroke="#555" stroke-width="0.5" fill="#b0b0b0"/>
<line x1="523.6" y1="149.9" x2="608" y2="149.9" stroke="#333" stroke-width="1.25"/>
<line x1="523.6" y1="149.4" x2="523.6" y2="158.4" stroke="#1c1c1c" stroke-width="0.9"/>
<rect x="524.2" y="150.4" width="3.4" height="1.9" rx="0" stroke="#1c1c1c" stroke-width="0.5" fill="#333"/>
<line x1="484" y1="158.4" x2="662.6" y2="158.4" stroke="#1c1c1c" stroke-width="1"/>
<line x1="484" y1="159.4" x2="641" y2="159.4" stroke="#777" stroke-width="0.8"/>
<line x1="484" y1="160.4" x2="642" y2="160.4" stroke="#1c1c1c" stroke-width="1"/>
<ellipse cx="488" cy="159.87" rx="2.3" ry="4.23" fill="#222"/>
<path d="M486.16 162.26 L489.84 162.26 L488 165.39 Z" stroke="#1c1c1c" stroke-width="0.4" fill="#222"/>
<ellipse cx="501.3" cy="159.87" rx="2.3" ry="4.23" fill="#222"/>
<path d="M499.46 162.26 L503.14 162.26 L501.3 165.39 Z" stroke="#1c1c1c" stroke-width="0.4" fill="#222"/>
<ellipse cx="522" cy="159.87" rx="2.3" ry="4.23" fill="#222"/>
<path d="M520.16 162.26 L523.84 162.26 L522 165.39 Z" stroke="#1c1c1c" stroke-width="0.4" fill="#222"/>
<ellipse cx="541.4" cy="159.87" rx="2.3" ry="4.23" fill="#222"/>
<path d="M539.56 162.26 L543.24 162.26 L541.4 165.39 Z" stroke="#1c1c1c" stroke-width="0.4" fill="#222"/>
<ellipse cx="562.6" cy="159.87" rx="2.3" ry="4.23" fill="#222"/>
<path d="M560.76 162.26 L564.44 162.26 L562.6 165.39 Z" stroke="#1c1c1c" stroke-width="0.4" fill="#222"/>
<ellipse cx="583.2" cy="159.87" rx="2.3" ry="4.23" fill="#222"/>
<path d="M581.36 162.26 L585.04 162.26 L583.2 165.39 Z" stroke="#1c1c1c" stroke-width="0.4" fill="#222"/>
<ellipse cx="603.3" cy="159.87" rx="2.3" ry="4.23" fill="#222"/>
<path d="M601.46 162.26 L605.14 162.26 L603.3 165.39 Z" stroke="#1c1c1c" stroke-width="0.4" fill="#222"/>
<ellipse cx="622.8" cy="159.87" rx="2.3" ry="4.23" fill="#222"/>
<path d="M620.96 162.26 L624.64 162.26 L622.8 165.39 Z" stroke="#1c1c1c" stroke-width="0.4" fill="#222"/>
<ellipse cx="636.6" cy="159.87" rx="2.3" ry="4.23" fill="#222"/>
<path d="M634.76 162.26 L638.44 162.26 L636.6 165.39 Z" stroke="#1c1c1c" stroke-width="0.4" fill="#222"/>
<line x1="484.1" y1="158.4" x2="484.1" y2="300.2" stroke="#1c1c1c" stroke-width="1"/>
<line x1="487.3" y1="160.4" x2="487.3" y2="280.6" stroke="#1c1c1c" stroke-width="1"/>
<line x1="638.2" y1="160.4" x2="638.2" y2="280.6" stroke="#1c1c1c" stroke-width="1"/>
<line x1="641.9" y1="158.4" x2="641.9" y2="300.2" stroke="#1c1c1c" stroke-width="1"/>
<line x1="487.3" y1="246.4" x2="638.2" y2="246.4" stroke="#1c1c1c" stroke-width="1"/>
<line x1="562.6" y1="160.4" x2="562.6" y2="246.4" stroke="#1c1c1c" stroke-width="1"/>
<rect x="533.5" y="179.3" width="5.4" height="5.4" rx="0" stroke="#1c1c1c" stroke-width="0.95" fill="none"/>
<line x1="529.6" y1="182" x2="542.8" y2="182" stroke="#1c1c1c" stroke-width="0.95"/>
<line x1="536.2" y1="178" x2="536.2" y2="186" stroke="#1c1c1c" stroke-width="0.95"/>
<rect x="533.5" y="213.7" width="5.4" height="5.4" rx="0" stroke="#1c1c1c" stroke-width="0.95" fill="none"/>
<line x1="529.6" y1="216.4" x2="542.8" y2="216.4" stroke="#1c1c1c" stroke-width="0.95"/>
<line x1="536.2" y1="212.4" x2="536.2" y2="220.4" stroke="#1c1c1c" stroke-width="0.95"/>
<rect x="587.3" y="179.3" width="5.4" height="5.4" rx="0" stroke="#1c1c1c" stroke-width="0.95" fill="none"/>
<line x1="583.4" y1="182" x2="596.6" y2="182" stroke="#1c1c1c" stroke-width="0.95"/>
<line x1="590" y1="178" x2="590" y2="186" stroke="#1c1c1c" stroke-width="0.95"/>
<rect x="587.3" y="213.7" width="5.4" height="5.4" rx="0" stroke="#1c1c1c" stroke-width="0.95" fill="none"/>
<line x1="583.4" y1="216.4" x2="596.6" y2="216.4" stroke="#1c1c1c" stroke-width="0.95"/>
<line x1="590" y1="212.4" x2="590" y2="220.4" stroke="#1c1c1c" stroke-width="0.95"/>
<path d="M498.3 246.4 L498.3 250.4 Q498.3 251.4 499.4 251.4 Q500.5 251.4 500.5 250.4 L500.5 248.2 L508.9 248.2 L508.9 250.4 Q508.9 251.4 510 251.4 Q511.1 251.4 511.1 250.4 L511.1 246.4" stroke="#1c1c1c" stroke-width="0.95" fill="none"/>
<line x1="504.7" y1="243" x2="504.7" y2="264.4" stroke="#1c1c1c" stroke-width="1"/>
<path d="M615.6 246.4 L615.6 250.4 Q615.6 251.4 616.7 251.4 Q617.8 251.4 617.8 250.4 L617.8 248.2 L626.2 248.2 L626.2 250.4 Q626.2 251.4 627.3 251.4 Q628.4 251.4 628.4 250.4 L628.4 246.4" stroke="#1c1c1c" stroke-width="0.95" fill="none"/>
<line x1="622" y1="243" x2="622" y2="264.4" stroke="#1c1c1c" stroke-width="1"/>
<rect x="637.2" y="237.6" width="7.4" height="4.4" rx="1.8" stroke="#1c1c1c" stroke-width="1" fill="none"/>
<line x1="637.2" y1="239.8" x2="644.6" y2="239.8" stroke="#1c1c1c" stroke-width="1"/>
<line x1="613.7" y1="91.3" x2="689.2" y2="91.3" stroke="#1c1c1c" stroke-width="1"/>
<line x1="626.8" y1="250.1" x2="688.8" y2="250.1" stroke="#1c1c1c" stroke-width="1"/>
<line x1="660" y1="160.9" x2="660" y2="247.6" stroke="#1c1c1c" stroke-width="1"/>
<polygon points="660,159.9 658,164.6 662,164.6" fill="#1c1c1c"/>
<polygon points="660,248.6 658,243.9 662,243.9" fill="#1c1c1c"/>
<line x1="679.8" y1="93.8" x2="679.8" y2="247.6" stroke="#1c1c1c" stroke-width="1"/>
<polygon points="679.8,92.8 677.8,97.5 681.8,97.5" fill="#1c1c1c"/>
<polygon points="679.8,248.6 677.8,243.9 681.8,243.9" fill="#1c1c1c"/>
<text class="t" x="658.9" y="203.9" font-size="11" text-anchor="middle" transform="rotate(-90 658.9 203.9)" letter-spacing="0.45">510</text>
<text class="t" x="675.5" y="170.4" font-size="11" text-anchor="middle" transform="rotate(-90 675.5 170.4)" letter-spacing="0.45">810</text>
<line x1="507.2" y1="263" x2="619.5" y2="263" stroke="#1c1c1c" stroke-width="1"/>
<polygon points="506.2,263 510.9,261 510.9,265" fill="#1c1c1c"/>
<polygon points="620.5,263 615.8,261 615.8,265" fill="#1c1c1c"/>
<line x1="489.8" y1="277.6" x2="635.7" y2="277.6" stroke="#1c1c1c" stroke-width="1"/>
<polygon points="488.8,277.6 493.5,275.6 493.5,279.6" fill="#1c1c1c"/>
<polygon points="636.7,277.6 632,275.6 632,279.6" fill="#1c1c1c"/>
<line x1="486.6" y1="295.4" x2="639.4" y2="295.4" stroke="#1c1c1c" stroke-width="1"/>
<polygon points="485.6,295.4 490.3,293.4 490.3,297.4" fill="#1c1c1c"/>
<polygon points="640.4,295.4 635.7,293.4 635.7,297.4" fill="#1c1c1c"/>
<text class="t" x="563.4" y="259.7" font-size="11" text-anchor="middle" letter-spacing="0.45">370</text>
<text class="t" x="563.4" y="274.7" font-size="11" text-anchor="middle" letter-spacing="0.45">630</text>
<text class="t" x="563.4" y="292.6" font-size="11" text-anchor="middle" letter-spacing="0.45">670</text>
<line x1="755.6" y1="77.5" x2="755.6" y2="86.5" stroke="#1c1c1c" stroke-width="0.9"/>
<rect x="753.43" y="86.5" width="4.35" height="5.7" rx="0" stroke="#333" stroke-width="0.7" fill="#d8d8d8"/>
<line x1="752.99" y1="87.14" x2="758.21" y2="87.14" stroke="#222" stroke-width="0.7"/>
<line x1="752.99" y1="88.29" x2="758.21" y2="88.29" stroke="#222" stroke-width="0.7"/>
<line x1="752.99" y1="89.44" x2="758.21" y2="89.44" stroke="#222" stroke-width="0.7"/>
<line x1="752.99" y1="90.59" x2="758.21" y2="90.59" stroke="#222" stroke-width="0.7"/>
<line x1="752.99" y1="91.74" x2="758.21" y2="91.74" stroke="#222" stroke-width="0.7"/>
<polygon points="757.69,92.2 758.11,93.24 758.76,94.2 759.58,95.12 760.52,95.97 761.56,96.78 762.63,97.55 763.69,98.28 763.69,102.6 747.51,102.6 747.51,98.28 748.57,97.55 749.64,96.78 750.68,95.97 751.62,95.12 752.44,94.2 753.09,93.24 753.51,92.2" fill="none" stroke="#1c1c1c" stroke-width="0.95"/>
<line x1="747.51" y1="98.37" x2="763.69" y2="98.37" stroke="#1c1c1c" stroke-width="0.9"/>
<line x1="748.81" y1="100.58" x2="762.39" y2="100.58" stroke="#8c8c8c" stroke-width="0.9"/>
<polygon points="764.13,111.52 764.13,112.81 764.35,113.88 764.89,114.76 765.67,115.48 766.62,116.1 767.65,116.64 768.71,117.16 769.69,117.69 770.03,118.16 770.08,118.74 769.84,119.3 769.31,119.73 768.48,119.9 764.39,119.9 763.69,120.72 763.96,121.22 764.33,121.68 764.8,122.12 765.37,122.57 766.04,123.03 766.81,123.51 767.69,124.04 768.03,124.51 768.08,125.09 767.84,125.65 767.31,126.08 766.48,126.24 764.39,126.24 763.69,127.07 764.07,127.63 764.73,128.14 765.59,128.62 766.58,129.09 767.64,129.55 768.7,130.04 769.69,130.57 770.03,131.04 770.08,131.62 769.84,132.18 769.31,132.61 768.48,132.78 764.39,132.78 763.69,133.6 763.96,134.16 764.33,134.68 764.8,135.15 765.37,135.62 766.04,136.09 766.81,136.57 767.69,137.1 768.03,137.58 768.08,138.16 767.84,138.72 767.31,139.14 766.48,139.31 764.39,139.31 763.69,140.14 764.07,140.66 764.73,141.15 765.59,141.61 766.58,142.07 767.64,142.53 768.7,143.01 769.69,143.54 770.03,144.02 770.08,144.6 769.84,145.16 769.31,145.58 768.48,145.75 764.39,145.75 746.81,145.75 742.72,145.75 741.89,145.58 741.36,145.16 741.12,144.6 741.17,144.02 741.51,143.54 742.5,143.01 743.56,142.53 744.62,142.07 745.61,141.61 746.47,141.15 747.13,140.66 747.51,140.14 746.81,139.31 744.73,139.31 743.89,139.14 743.36,138.72 743.12,138.16 743.17,137.58 743.51,137.1 744.39,136.57 745.16,136.09 745.83,135.62 746.4,135.15 746.87,134.68 747.24,134.16 747.51,133.6 746.81,132.78 742.72,132.78 741.89,132.61 741.36,132.18 741.12,131.62 741.17,131.04 741.51,130.57 742.5,130.04 743.56,129.55 744.62,129.09 745.61,128.62 746.47,128.14 747.13,127.63 747.51,127.07 746.81,126.24 744.73,126.24 743.89,126.08 743.36,125.65 743.12,125.09 743.17,124.51 743.51,124.04 744.39,123.51 745.16,123.03 745.83,122.57 746.4,122.12 746.87,121.68 747.24,121.22 747.51,120.72 746.81,119.9 742.72,119.9 741.89,119.73 741.36,119.3 741.12,118.74 741.17,118.16 741.51,117.69 742.49,117.16 743.55,116.64 744.58,116.1 745.53,115.48 746.31,114.76 746.85,113.88 747.07,112.81 747.07,111.52" fill="none" stroke="#1c1c1c" stroke-width="0.95"/>
<line x1="742.72" y1="119.9" x2="768.48" y2="119.9" stroke="#1c1c1c" stroke-width="0.95"/>
<line x1="748.99" y1="115.48" x2="762.21" y2="115.48" stroke="#5c5c5c" stroke-width="1.2"/>
<line x1="744.73" y1="126.24" x2="766.48" y2="126.24" stroke="#1c1c1c" stroke-width="0.95"/>
<line x1="748.99" y1="121.83" x2="762.21" y2="121.83" stroke="#5c5c5c" stroke-width="1.2"/>
<line x1="742.72" y1="132.78" x2="768.48" y2="132.78" stroke="#1c1c1c" stroke-width="0.95"/>
<line x1="748.99" y1="128.36" x2="762.21" y2="128.36" stroke="#5c5c5c" stroke-width="1.2"/>
<line x1="744.73" y1="139.31" x2="766.48" y2="139.31" stroke="#1c1c1c" stroke-width="0.95"/>
<line x1="748.99" y1="134.89" x2="762.21" y2="134.89" stroke="#5c5c5c" stroke-width="1.2"/>
<line x1="742.72" y1="145.75" x2="768.48" y2="145.75" stroke="#1c1c1c" stroke-width="0.95"/>
<line x1="748.99" y1="141.33" x2="762.21" y2="141.33" stroke="#5c5c5c" stroke-width="1.2"/>
<rect x="745.51" y="102.6" width="20.18" height="8.92" rx="1.47" stroke="#1c1c1c" stroke-width="0.95" fill="none"/>
<polygon points="751,107.02 753.3,103.06 757.9,103.06 760.2,107.02 757.9,110.97 753.3,110.97" fill="none" stroke="#1c1c1c" stroke-width="0.85"/>
<circle cx="755.6" cy="107.02" r="3.13" stroke="#1c1c1c" stroke-width="0.85" fill="none"/>
<circle cx="755.6" cy="107.02" r="2.02" stroke="#1c1c1c" stroke-width="0" fill="#2a2a2a"/>
<rect x="736.3" y="104.72" width="9.21" height="4.6" rx="0.8" stroke="#1c1c1c" stroke-width="0.6" fill="#3c3c3c"/>
<line x1="744.31" y1="104.92" x2="744.31" y2="109.12" stroke="#8a8a8a" stroke-width="0.45"/>
<line x1="743.01" y1="104.92" x2="743.01" y2="109.12" stroke="#8a8a8a" stroke-width="0.45"/>
<line x1="741.71" y1="104.92" x2="741.71" y2="109.12" stroke="#8a8a8a" stroke-width="0.45"/>
<line x1="740.41" y1="104.92" x2="740.41" y2="109.12" stroke="#8a8a8a" stroke-width="0.45"/>
<line x1="739.11" y1="104.92" x2="739.11" y2="109.12" stroke="#8a8a8a" stroke-width="0.45"/>
<line x1="737.81" y1="104.92" x2="737.81" y2="109.12" stroke="#8a8a8a" stroke-width="0.45"/>
<path d="M736.3 105.92 L730.2 105.92 L727.9 107.02 L730.2 108.12 L736.3 108.12 Z" stroke="#1c1c1c" stroke-width="0.4" fill="#4a4a4a"/>
<rect x="765.69" y="104.72" width="9.21" height="4.6" rx="0.8" stroke="#1c1c1c" stroke-width="0.6" fill="#3c3c3c"/>
<line x1="766.89" y1="104.92" x2="766.89" y2="109.12" stroke="#8a8a8a" stroke-width="0.45"/>
<line x1="768.19" y1="104.92" x2="768.19" y2="109.12" stroke="#8a8a8a" stroke-width="0.45"/>
<line x1="769.49" y1="104.92" x2="769.49" y2="109.12" stroke="#8a8a8a" stroke-width="0.45"/>
<line x1="770.79" y1="104.92" x2="770.79" y2="109.12" stroke="#8a8a8a" stroke-width="0.45"/>
<line x1="772.09" y1="104.92" x2="772.09" y2="109.12" stroke="#8a8a8a" stroke-width="0.45"/>
<line x1="773.39" y1="104.92" x2="773.39" y2="109.12" stroke="#8a8a8a" stroke-width="0.45"/>
<path d="M774.9 105.92 L781 105.92 L783.3 107.02 L781 108.12 L774.9 108.12 Z" stroke="#1c1c1c" stroke-width="0.4" fill="#4a4a4a"/>
<circle cx="765.09" cy="107.02" r="2" stroke="#1c1c1c" stroke-width="0.7" fill="none"/>
<line x1="755.6" y1="91.84" x2="755.6" y2="161.8" stroke="#1c1c1c" stroke-width="0.9"/>
<line x1="745.57" y1="145.75" x2="745.57" y2="148.7" stroke="#1c1c1c" stroke-width="0.8"/>
<polygon points="742.54,152.37 742.54,151.63 743.46,150.81 743.46,148.62 744.19,147.7 746.95,147.7 747.69,148.62 747.69,150.81 748.61,151.63 748.61,152.37" fill="#1c1c1c" stroke="#1c1c1c" stroke-width="0.4"/>
<rect x="744.65" y="148.53" width="1.84" height="1.2" rx="0.5" stroke="#1c1c1c" stroke-width="0" fill="#a8a8a8"/>
<line x1="755.6" y1="145.75" x2="755.6" y2="148.7" stroke="#1c1c1c" stroke-width="0.8"/>
<polygon points="752.56,152.37 752.56,151.63 753.48,150.81 753.48,148.62 754.22,147.7 756.98,147.7 757.72,148.62 757.72,150.81 758.64,151.63 758.64,152.37" fill="#1c1c1c" stroke="#1c1c1c" stroke-width="0.4"/>
<rect x="754.68" y="148.53" width="1.84" height="1.2" rx="0.5" stroke="#1c1c1c" stroke-width="0" fill="#a8a8a8"/>
<line x1="765.81" y1="145.75" x2="765.81" y2="148.7" stroke="#1c1c1c" stroke-width="0.8"/>
<polygon points="762.78,152.37 762.78,151.63 763.7,150.81 763.7,148.62 764.43,147.7 767.19,147.7 767.93,148.62 767.93,150.81 768.85,151.63 768.85,152.37" fill="#1c1c1c" stroke="#1c1c1c" stroke-width="0.4"/>
<rect x="764.89" y="148.53" width="1.84" height="1.2" rx="0.5" stroke="#1c1c1c" stroke-width="0" fill="#a8a8a8"/>
<path d="M739.41 160.8 L739.78 156.97 Q740.33 152.57 744.56 152.37 L748.79 152.37" stroke="#1c1c1c" stroke-width="0.95" fill="none"/>
<path d="M745.11 160.8 L745.11 153.75 L748.98 153.75 Q750.45 153.75 750.45 155.04 L750.45 155.68 Q750.45 156.97 749.16 156.97 L747.32 156.97 L747.32 160.34" stroke="#1c1c1c" stroke-width="1.15" fill="none"/>
<line x1="747.32" y1="159.6" x2="752.47" y2="159.6" stroke="#333" stroke-width="0.9"/>
<path d="M772.16 160.8 L771.79 156.97 Q771.24 152.57 767.01 152.37 L762.59 152.37" stroke="#1c1c1c" stroke-width="0.95" fill="none"/>
<path d="M761.49 154.21 L764.43 154.21 Q765.9 154.21 765.9 155.68 L765.9 156.42" stroke="#1c1c1c" stroke-width="1.15" fill="none"/>
<line x1="765.9" y1="156.42" x2="765.9" y2="159.6" stroke="#777" stroke-width="1.2"/>
<path d="M761.49 154.21 L761.49 156.23 L763.51 156.23" stroke="#444" stroke-width="0.8" fill="none"/>
<line x1="758.73" y1="159.6" x2="765.9" y2="159.6" stroke="#333" stroke-width="0.9"/>
<rect x="752.01" y="152.55" width="7.36" height="7.33" rx="2.39" stroke="#1c1c1c" stroke-width="0.9" fill="none"/>
<rect x="753.76" y="153.66" width="1.38" height="5.12" rx="0" stroke="#555" stroke-width="0.5" fill="#8c8c8c"/>
<rect x="756.52" y="153.66" width="1.47" height="5.12" rx="0" stroke="#555" stroke-width="0.5" fill="#b0b0b0"/>
<line x1="727.4" y1="160.8" x2="841.8" y2="160.8" stroke="#1c1c1c" stroke-width="1.3"/>
<path d="M778.4 160.8 L778.4 154.6 A6.2 6.2 0 0 1 790.8 154.6 L790.8 160.8" stroke="#1c1c1c" stroke-width="0.95" fill="none"/>
<circle cx="784.6" cy="155" r="2.5" stroke="#1c1c1c" stroke-width="0.8" fill="none"/>
<line x1="779.6" y1="155" x2="789.6" y2="155" stroke="#1c1c1c" stroke-width="0.7"/>
<line x1="784.6" y1="147" x2="784.6" y2="160.8" stroke="#1c1c1c" stroke-width="0.7"/>
<path d="M804.3 160.8 L804.3 151.2 Q804.3 149.8 805.7 149.8 L824.4 149.8 Q825.8 149.8 825.8 151.2 L825.8 160.8" stroke="#1c1c1c" stroke-width="0.95" fill="none"/>
<ellipse cx="739.2" cy="162.08" rx="2" ry="3.68" fill="#222"/>
<path d="M737.6 164.16 L740.8 164.16 L739.2 166.88 Z" stroke="#1c1c1c" stroke-width="0.4" fill="#222"/>
<ellipse cx="762.2" cy="162.08" rx="2" ry="3.68" fill="#222"/>
<path d="M760.6 164.16 L763.8 164.16 L762.2 166.88 Z" stroke="#1c1c1c" stroke-width="0.4" fill="#222"/>
<ellipse cx="784.6" cy="162.08" rx="2" ry="3.68" fill="#222"/>
<path d="M783 164.16 L786.2 164.16 L784.6 166.88 Z" stroke="#1c1c1c" stroke-width="0.4" fill="#222"/>
<ellipse cx="806.3" cy="162.08" rx="2" ry="3.68" fill="#222"/>
<path d="M804.7 164.16 L807.9 164.16 L806.3 166.88 Z" stroke="#1c1c1c" stroke-width="0.4" fill="#222"/>
<ellipse cx="828.8" cy="162.08" rx="2" ry="3.68" fill="#222"/>
<path d="M827.2 164.16 L830.4 164.16 L828.8 166.88 Z" stroke="#1c1c1c" stroke-width="0.4" fill="#222"/>
<line x1="731.8" y1="160.8" x2="731.8" y2="254.8" stroke="#1c1c1c" stroke-width="1"/>
<line x1="837.5" y1="160.8" x2="837.5" y2="254.8" stroke="#1c1c1c" stroke-width="1"/>
<line x1="784.6" y1="160.8" x2="784.6" y2="254.8" stroke="#1c1c1c" stroke-width="1"/>
<line x1="731.8" y1="254.6" x2="837.5" y2="254.6" stroke="#1c1c1c" stroke-width="1.6"/>
<rect x="770.4" y="185.4" width="28" height="32.2" rx="0" stroke="#1c1c1c" stroke-width="1" fill="none"/>
<rect x="837.5" y="166.2" width="7.2" height="6.4" rx="0" stroke="#1c1c1c" stroke-width="0.9" fill="none"/>
<rect x="837.9" y="172.6" width="2.9" height="42.4" rx="0" stroke="#2a2a2a" stroke-width="0.9" fill="none"/>
<rect x="723.7" y="255" width="123.3" height="5" rx="0" stroke="#1c1c1c" stroke-width="1" fill="none"/>
<line x1="723.7" y1="258" x2="723.7" y2="293.2" stroke="#1c1c1c" stroke-width="1"/>
<line x1="847" y1="258" x2="847" y2="293.2" stroke="#1c1c1c" stroke-width="1"/>
<line x1="729.7" y1="251.4" x2="729.7" y2="276.4" stroke="#1c1c1c" stroke-width="1"/>
<line x1="840.9" y1="251.4" x2="840.9" y2="276.4" stroke="#1c1c1c" stroke-width="1"/>
<line x1="732.2" y1="273.4" x2="838.4" y2="273.4" stroke="#1c1c1c" stroke-width="1"/>
<polygon points="731.2,273.4 735.9,271.4 735.9,275.4" fill="#1c1c1c"/>
<polygon points="839.4,273.4 834.7,271.4 834.7,275.4" fill="#1c1c1c"/>
<line x1="726.2" y1="289.6" x2="844.5" y2="289.6" stroke="#1c1c1c" stroke-width="1"/>
<polygon points="725.2,289.6 729.9,287.6 729.9,291.6" fill="#1c1c1c"/>
<polygon points="845.5,289.6 840.8,287.6 840.8,291.6" fill="#1c1c1c"/>
<text class="t" x="785.9" y="271.2" font-size="11" text-anchor="middle" letter-spacing="0.45">360</text>
<text class="t" x="785.9" y="285.6" font-size="11" text-anchor="middle" letter-spacing="0.45">400</text>
<text class="c" x="250.8" y="366.2" font-size="14.6" text-anchor="middle" textLength="124.4" lengthAdjust="spacing">三相二元件外形图</text>
<text class="e" x="253.6" y="388" font-size="14.2" text-anchor="middle" textLength="231.4" lengthAdjust="spacing">Three-phase two&#160; element outline</text>
<text class="c" x="667.2" y="366.2" font-size="14.6" text-anchor="middle" textLength="124.6" lengthAdjust="spacing">三相三元件外形图</text>
<text class="e" x="667.7" y="388" font-size="14.2" text-anchor="middle" textLength="242.4" lengthAdjust="spacing">Three-phase three&#160; element outline</text>
</svg>
</body>
</html>
